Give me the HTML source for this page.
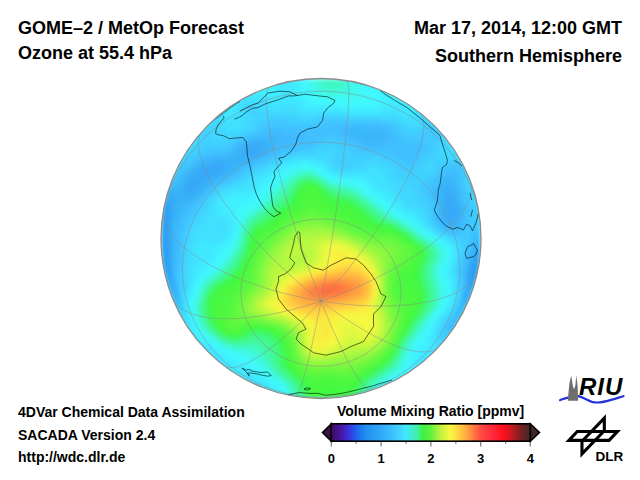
<!DOCTYPE html>
<html><head><meta charset="utf-8">
<style>
html,body{margin:0;padding:0;background:#fff;width:640px;height:480px;overflow:hidden;}
body{position:relative;font-family:"Liberation Sans",sans-serif;font-weight:bold;color:#000;}
.t{position:absolute;white-space:nowrap;line-height:1;}
.h{font-size:18px;}
.s{font-size:14px;}
svg{position:absolute;left:0;top:0;}
</style></head><body>
<div class="t h" style="left:18px;top:19px;">GOME&#8211;2 / MetOp Forecast</div>
<div class="t h" style="left:18px;top:44px;">Ozone at 55.4 hPa</div>
<div class="t h" style="right:18px;top:19px;">Mar 17, 2014, 12:00 GMT</div>
<div class="t h" style="right:18px;top:47px;">Southern Hemisphere</div>
<div class="t s" style="left:18px;top:405px;">4DVar Chemical Data Assimilation</div>
<div class="t s" style="left:18px;top:428px;">SACADA Version 2.4</div>
<div class="t s" style="left:18px;top:450px;">http://wdc.dlr.de</div>
<div class="t s" style="left:337px;top:404px;">Volume Mixing Ratio [ppmv]</div>
<svg width="640" height="480" viewBox="0 0 640 480">
  <defs>
    <clipPath id="disc"><circle cx="321" cy="238.5" r="160"/></clipPath>
    <filter id="soft" x="-5%" y="-5%" width="110%" height="110%"><feGaussianBlur stdDeviation="2"/></filter>
  </defs>
  <g clip-path="url(#disc)"><g filter="url(#soft)">
<path fill="#40f0ff" d="M161 79h116v4h-116zM297 79h4v4h-4zM161 83h116v4h-116zM297 83h4v4h-4zM377 83h104v4h-104zM161 87h116v4h-116zM297 87h4v4h-4zM377 87h104v4h-104zM161 91h84v4h-84zM253 91h24v4h-24zM297 91h8v4h-8zM381 91h100v4h-100zM297 95h8v4h-8zM381 95h44v4h-44zM301 99h8v4h-8zM377 99h36v4h-36zM305 103h32v4h-32zM373 103h16v4h-16zM341 107h40v4h-40zM289 163h12v4h-12zM309 163h8v4h-8zM281 167h8v4h-8zM321 167h4v4h-4zM277 171h4v4h-4zM325 171h4v4h-4zM269 175h8v4h-8zM333 175h8v4h-8zM265 179h8v4h-8zM357 179h8v4h-8zM261 183h4v4h-4zM365 183h4v4h-4zM257 187h4v4h-4zM369 187h4v4h-4zM253 191h4v4h-4zM373 191h8v4h-8zM233 195h24v4h-24zM381 195h4v4h-4zM225 199h28v4h-28zM385 199h4v4h-4zM225 203h16v4h-16zM389 203h4v4h-4zM225 207h12v4h-12zM393 207h4v4h-4zM229 211h8v4h-8zM401 211h4v4h-4zM233 215h4v4h-4zM405 215h8v4h-8zM233 219h4v4h-4zM413 219h4v4h-4zM233 223h4v4h-4zM417 223h4v4h-4zM233 227h4v4h-4zM421 227h4v4h-4zM429 231h4v4h-4zM229 235h4v4h-4zM433 235h4v4h-4zM229 239h4v4h-4zM441 239h4v4h-4zM221 243h8v4h-8zM445 243h4v4h-4zM217 247h8v4h-8zM449 247h4v4h-4zM213 251h8v4h-8zM449 251h4v4h-4zM213 255h4v4h-4zM449 255h4v4h-4zM209 259h8v4h-8zM449 259h4v4h-4zM205 263h8v4h-8zM201 267h8v4h-8zM445 267h4v4h-4zM197 271h8v4h-8zM445 271h4v4h-4zM197 275h4v4h-4zM445 275h4v4h-4zM193 279h4v4h-4zM449 279h4v4h-4zM193 283h4v4h-4zM449 283h4v4h-4zM449 287h4v4h-4zM449 291h4v4h-4zM189 295h4v4h-4zM449 295h4v4h-4zM445 303h4v4h-4zM185 307h4v4h-4zM441 311h4v4h-4zM437 315h4v4h-4zM189 319h4v4h-4zM433 319h4v4h-4zM193 327h4v4h-4zM429 327h4v4h-4zM193 331h4v4h-4zM429 331h4v4h-4zM197 335h4v4h-4zM425 335h4v4h-4zM201 339h4v4h-4zM425 339h4v4h-4zM209 343h4v4h-4zM421 343h8v4h-8zM213 347h4v4h-4zM417 347h8v4h-8zM217 351h8v4h-8zM413 351h8v4h-8zM221 355h8v4h-8zM413 355h4v4h-4zM225 359h12v4h-12zM413 359h4v4h-4zM233 363h16v4h-16zM409 363h4v4h-4zM245 367h8v4h-8zM409 367h4v4h-4zM253 371h4v4h-4zM405 371h8v4h-8zM257 375h8v4h-8zM401 375h8v4h-8zM265 379h4v4h-4zM397 379h8v4h-8zM269 383h4v4h-4zM393 383h4v4h-4zM273 387h4v4h-4zM277 391h4v4h-4zM277 395h4v4h-4z"/>
<path fill="#40e8ff" d="M277 79h20v4h-20zM277 83h20v4h-20zM277 87h20v4h-20zM245 91h8v4h-8zM277 91h20v4h-20zM233 95h64v4h-64zM161 99h80v4h-80zM265 99h36v4h-36zM213 103h24v4h-24zM273 103h4v4h-4zM297 103h8v4h-8zM389 103h40v4h-40zM221 107h16v4h-16zM301 107h40v4h-40zM381 107h40v4h-40zM225 111h12v4h-12zM349 111h32v4h-32zM405 111h8v4h-8zM225 115h8v4h-8zM293 159h24v4h-24zM281 163h8v4h-8zM317 163h8v4h-8zM277 167h4v4h-4zM325 167h4v4h-4zM269 171h8v4h-8zM329 171h4v4h-4zM261 175h8v4h-8zM341 175h28v4h-28zM257 179h8v4h-8zM365 179h8v4h-8zM253 183h8v4h-8zM369 183h8v4h-8zM245 187h12v4h-12zM373 187h8v4h-8zM229 191h24v4h-24zM381 191h8v4h-8zM221 195h12v4h-12zM385 195h8v4h-8zM217 199h8v4h-8zM389 199h8v4h-8zM217 203h8v4h-8zM393 203h8v4h-8zM217 207h8v4h-8zM397 207h8v4h-8zM217 211h12v4h-12zM405 211h8v4h-8zM221 215h12v4h-12zM413 215h4v4h-4zM229 219h4v4h-4zM417 219h4v4h-4zM229 223h4v4h-4zM421 223h4v4h-4zM229 227h4v4h-4zM425 227h4v4h-4zM229 231h4v4h-4zM225 235h4v4h-4zM437 235h4v4h-4zM201 239h4v4h-4zM221 239h8v4h-8zM445 239h4v4h-4zM197 243h24v4h-24zM449 243h4v4h-4zM197 247h20v4h-20zM453 247h4v4h-4zM197 251h16v4h-16zM453 251h4v4h-4zM197 255h16v4h-16zM453 255h4v4h-4zM197 259h12v4h-12zM197 263h8v4h-8zM449 263h4v4h-4zM193 267h8v4h-8zM449 267h4v4h-4zM193 271h4v4h-4zM449 271h4v4h-4zM193 275h4v4h-4zM449 275h4v4h-4zM189 283h4v4h-4zM189 287h4v4h-4zM189 291h4v4h-4zM185 299h4v4h-4zM449 299h4v4h-4zM185 303h4v4h-4zM449 303h4v4h-4zM445 307h4v4h-4zM185 311h4v4h-4zM185 315h4v4h-4zM185 319h4v4h-4zM437 319h4v4h-4zM189 323h4v4h-4zM433 323h4v4h-4zM189 327h4v4h-4zM433 327h4v4h-4zM189 331h4v4h-4zM193 335h4v4h-4zM429 335h4v4h-4zM193 339h8v4h-8zM429 339h4v4h-4zM201 343h8v4h-8zM429 343h4v4h-4zM209 347h4v4h-4zM425 347h8v4h-8zM213 351h4v4h-4zM421 351h12v4h-12zM217 355h4v4h-4zM417 355h8v4h-8zM221 359h4v4h-4zM417 359h4v4h-4zM221 363h12v4h-12zM413 363h8v4h-8zM225 367h20v4h-20zM413 367h4v4h-4zM229 371h24v4h-24zM413 371h4v4h-4zM245 375h12v4h-12zM409 375h4v4h-4zM253 379h12v4h-12zM261 383h8v4h-8zM269 387h4v4h-4zM269 391h8v4h-8zM273 395h4v4h-4z"/>
<path fill="#40f8ff" d="M301 79h4v4h-4zM369 79h8v4h-8zM301 83h4v4h-4zM369 83h8v4h-8zM301 87h4v4h-4zM369 87h8v4h-8zM305 91h4v4h-4zM369 91h12v4h-12zM305 95h8v4h-8zM369 95h12v4h-12zM309 99h16v4h-16zM369 99h8v4h-8zM337 103h36v4h-36zM301 163h8v4h-8zM289 167h4v4h-4zM317 167h4v4h-4zM281 171h4v4h-4zM321 171h4v4h-4zM277 175h4v4h-4zM329 175h4v4h-4zM273 179h4v4h-4zM341 179h16v4h-16zM265 183h8v4h-8zM361 183h4v4h-4zM261 187h4v4h-4zM365 187h4v4h-4zM257 191h8v4h-8zM369 191h4v4h-4zM257 195h4v4h-4zM377 195h4v4h-4zM253 199h4v4h-4zM381 199h4v4h-4zM241 203h12v4h-12zM385 203h4v4h-4zM237 207h8v4h-8zM389 207h4v4h-4zM237 211h4v4h-4zM397 211h4v4h-4zM237 215h4v4h-4zM409 219h4v4h-4zM233 231h4v4h-4zM425 231h4v4h-4zM233 235h4v4h-4zM437 239h4v4h-4zM229 243h4v4h-4zM225 247h4v4h-4zM445 247h4v4h-4zM221 251h4v4h-4zM217 255h4v4h-4zM217 259h4v4h-4zM445 259h4v4h-4zM213 263h4v4h-4zM445 263h4v4h-4zM209 267h4v4h-4zM205 271h4v4h-4zM201 275h4v4h-4zM197 279h4v4h-4zM445 279h4v4h-4zM445 283h4v4h-4zM193 287h4v4h-4zM193 291h4v4h-4zM445 295h4v4h-4zM189 299h4v4h-4zM445 299h4v4h-4zM189 303h4v4h-4zM189 307h4v4h-4zM441 307h4v4h-4zM189 311h4v4h-4zM437 311h4v4h-4zM189 315h4v4h-4zM193 323h4v4h-4zM429 323h4v4h-4zM197 331h4v4h-4zM425 331h4v4h-4zM201 335h4v4h-4zM205 339h4v4h-4zM421 339h4v4h-4zM213 343h4v4h-4zM417 343h4v4h-4zM217 347h4v4h-4zM413 347h4v4h-4zM225 351h4v4h-4zM229 355h8v4h-8zM409 355h4v4h-4zM237 359h12v4h-12zM409 359h4v4h-4zM249 363h4v4h-4zM253 367h4v4h-4zM405 367h4v4h-4zM257 371h8v4h-8zM401 371h4v4h-4zM265 375h4v4h-4zM397 375h4v4h-4zM269 379h4v4h-4zM393 379h4v4h-4zM273 383h4v4h-4zM389 383h4v4h-4zM277 387h4v4h-4zM385 387h4v4h-4zM281 391h4v4h-4zM281 395h4v4h-4z"/>
<path fill="#40f8f8" d="M305 79h4v4h-4zM361 79h8v4h-8zM305 83h4v4h-4zM361 83h8v4h-8zM305 87h4v4h-4zM361 87h8v4h-8zM309 91h4v4h-4zM361 91h8v4h-8zM313 95h8v4h-8zM361 95h8v4h-8zM325 99h44v4h-44zM293 167h4v4h-4zM313 167h4v4h-4zM285 171h4v4h-4zM281 175h4v4h-4zM325 175h4v4h-4zM277 179h4v4h-4zM333 179h8v4h-8zM273 183h4v4h-4zM353 183h8v4h-8zM265 187h4v4h-4zM361 187h4v4h-4zM365 191h4v4h-4zM261 195h4v4h-4zM373 195h4v4h-4zM257 199h4v4h-4zM377 199h4v4h-4zM253 203h4v4h-4zM381 203h4v4h-4zM245 207h4v4h-4zM385 207h4v4h-4zM241 211h4v4h-4zM393 211h4v4h-4zM401 215h4v4h-4zM237 219h4v4h-4zM405 219h4v4h-4zM237 223h4v4h-4zM413 223h4v4h-4zM417 227h4v4h-4zM421 231h4v4h-4zM429 235h4v4h-4zM233 239h4v4h-4zM441 243h4v4h-4zM225 251h4v4h-4zM445 251h4v4h-4zM221 255h4v4h-4zM445 255h4v4h-4zM217 263h4v4h-4zM441 263h4v4h-4zM213 267h4v4h-4zM441 267h4v4h-4zM441 271h4v4h-4zM441 275h4v4h-4zM197 283h4v4h-4zM445 287h4v4h-4zM445 291h4v4h-4zM193 295h4v4h-4zM441 303h4v4h-4zM433 315h4v4h-4zM193 319h4v4h-4zM429 319h4v4h-4zM197 327h4v4h-4zM425 327h4v4h-4zM201 331h4v4h-4zM421 331h4v4h-4zM205 335h4v4h-4zM421 335h4v4h-4zM209 339h4v4h-4zM417 339h4v4h-4zM413 343h4v4h-4zM221 347h4v4h-4zM229 351h4v4h-4zM409 351h4v4h-4zM237 355h8v4h-8zM249 359h4v4h-4zM405 359h4v4h-4zM253 363h4v4h-4zM405 363h4v4h-4zM257 367h4v4h-4zM401 367h4v4h-4zM269 375h4v4h-4zM393 375h4v4h-4zM273 379h4v4h-4zM389 379h4v4h-4zM277 383h4v4h-4zM385 383h4v4h-4zM281 387h4v4h-4zM381 387h4v4h-4zM377 391h4v4h-4z"/>
<path fill="#40f8f0" d="M309 79h4v4h-4zM357 79h4v4h-4zM309 83h4v4h-4zM357 83h4v4h-4zM309 87h8v4h-8zM353 87h8v4h-8zM313 91h4v4h-4zM353 91h8v4h-8zM321 95h40v4h-40zM297 167h16v4h-16zM289 171h4v4h-4zM317 171h4v4h-4zM285 175h4v4h-4zM281 179h4v4h-4zM329 179h4v4h-4zM277 183h4v4h-4zM349 183h4v4h-4zM269 187h4v4h-4zM357 187h4v4h-4zM265 191h4v4h-4zM369 195h4v4h-4zM261 199h4v4h-4zM373 199h4v4h-4zM257 203h4v4h-4zM249 207h4v4h-4zM245 211h4v4h-4zM389 211h4v4h-4zM241 215h4v4h-4zM397 215h4v4h-4zM409 223h4v4h-4zM237 227h4v4h-4zM237 231h4v4h-4zM425 235h4v4h-4zM433 239h4v4h-4zM233 243h4v4h-4zM437 243h4v4h-4zM229 247h4v4h-4zM441 247h4v4h-4zM225 255h4v4h-4zM221 259h4v4h-4zM441 259h4v4h-4zM209 271h4v4h-4zM437 271h4v4h-4zM205 275h4v4h-4zM201 279h4v4h-4zM441 279h4v4h-4zM441 283h4v4h-4zM197 287h4v4h-4zM441 287h4v4h-4zM441 291h4v4h-4zM441 295h4v4h-4zM193 299h4v4h-4zM441 299h4v4h-4zM193 303h4v4h-4zM437 307h4v4h-4zM193 311h4v4h-4zM433 311h4v4h-4zM193 315h4v4h-4zM197 323h4v4h-4zM425 323h4v4h-4zM417 335h4v4h-4zM213 339h4v4h-4zM413 339h4v4h-4zM217 343h4v4h-4zM225 347h4v4h-4zM409 347h4v4h-4zM233 351h8v4h-8zM245 355h8v4h-8zM405 355h4v4h-4zM253 359h4v4h-4zM257 363h4v4h-4zM401 363h4v4h-4zM261 367h4v4h-4zM265 371h4v4h-4zM397 371h4v4h-4zM389 375h4v4h-4zM277 379h4v4h-4zM385 379h4v4h-4zM281 383h4v4h-4zM381 383h4v4h-4zM377 387h4v4h-4zM285 391h4v4h-4zM373 391h4v4h-4zM285 395h4v4h-4z"/>
<path fill="#40f8e8" d="M313 79h4v4h-4zM349 79h8v4h-8zM313 83h4v4h-4zM349 83h8v4h-8zM349 87h4v4h-4zM317 91h8v4h-8zM345 91h8v4h-8zM293 171h4v4h-4zM321 175h4v4h-4zM341 183h8v4h-8zM273 187h4v4h-4zM269 191h4v4h-4zM361 191h4v4h-4zM265 195h4v4h-4zM377 203h4v4h-4zM253 207h4v4h-4zM381 207h4v4h-4zM249 211h4v4h-4zM245 215h4v4h-4zM393 215h4v4h-4zM241 219h4v4h-4zM401 219h4v4h-4zM413 227h4v4h-4zM237 235h4v4h-4zM229 251h4v4h-4zM441 251h4v4h-4zM441 255h4v4h-4zM221 263h4v4h-4zM437 263h4v4h-4zM217 267h4v4h-4zM437 267h4v4h-4zM213 271h4v4h-4zM437 275h4v4h-4zM201 283h4v4h-4zM197 291h4v4h-4zM437 303h4v4h-4zM193 307h4v4h-4zM429 315h4v4h-4zM201 327h4v4h-4zM421 327h4v4h-4zM209 335h4v4h-4zM221 343h4v4h-4zM409 343h4v4h-4zM229 347h4v4h-4zM241 351h8v4h-8zM405 351h4v4h-4zM253 355h4v4h-4zM257 359h4v4h-4zM401 359h4v4h-4zM261 363h4v4h-4zM265 367h4v4h-4zM397 367h4v4h-4zM269 371h4v4h-4zM393 371h4v4h-4zM273 375h4v4h-4zM381 379h4v4h-4zM377 383h4v4h-4zM285 387h4v4h-4zM373 387h4v4h-4z"/>
<path fill="#40f8d8" d="M317 79h4v4h-4zM345 79h4v4h-4zM317 83h4v4h-4zM345 83h4v4h-4zM321 87h4v4h-4zM341 87h4v4h-4zM333 91h4v4h-4zM297 171h4v4h-4zM285 179h4v4h-4zM325 179h4v4h-4zM281 183h4v4h-4zM277 187h4v4h-4zM273 191h4v4h-4zM269 195h4v4h-4zM265 199h4v4h-4zM369 199h4v4h-4zM261 203h4v4h-4zM257 207h4v4h-4zM405 223h4v4h-4zM237 239h4v4h-4zM229 255h4v4h-4zM437 259h4v4h-4zM205 279h4v4h-4zM437 283h4v4h-4zM197 295h4v4h-4zM437 299h4v4h-4zM433 307h4v4h-4zM421 323h4v4h-4zM413 335h4v4h-4zM233 347h4v4h-4zM405 347h4v4h-4zM253 351h4v4h-4zM261 359h4v4h-4zM281 379h4v4h-4zM285 383h4v4h-4zM289 391h4v4h-4zM369 391h4v4h-4zM289 395h4v4h-4z"/>
<path fill="#40f8c8" d="M321 79h4v4h-4zM341 79h4v4h-4zM325 83h4v4h-4zM337 83h4v4h-4zM329 87h8v4h-8zM305 171h4v4h-4zM317 175h4v4h-4zM281 187h4v4h-4zM349 187h4v4h-4zM361 195h4v4h-4zM377 207h4v4h-4zM249 215h4v4h-4zM245 219h4v4h-4zM409 227h4v4h-4zM237 243h4v4h-4zM233 251h4v4h-4zM437 251h4v4h-4zM437 255h4v4h-4zM225 263h4v4h-4zM217 271h4v4h-4zM201 287h4v4h-4zM197 299h4v4h-4zM429 311h4v4h-4zM201 323h4v4h-4zM417 327h4v4h-4zM225 343h4v4h-4zM249 347h4v4h-4zM257 351h4v4h-4zM261 355h4v4h-4zM269 367h4v4h-4zM393 367h4v4h-4zM273 371h4v4h-4zM289 387h4v4h-4zM369 387h4v4h-4z"/>
<path fill="#40f8c0" d="M325 79h16v4h-16zM329 83h8v4h-8zM293 175h4v4h-4zM289 179h4v4h-4zM285 183h4v4h-4zM329 183h4v4h-4zM345 187h4v4h-4zM277 191h4v4h-4zM273 195h4v4h-4zM269 199h4v4h-4zM265 203h4v4h-4zM261 207h4v4h-4zM381 211h4v4h-4zM241 231h4v4h-4zM413 231h4v4h-4zM425 239h4v4h-4zM229 259h4v4h-4zM433 263h4v4h-4zM213 275h4v4h-4zM433 279h4v4h-4zM197 303h4v4h-4zM433 303h4v4h-4zM197 311h4v4h-4zM425 315h4v4h-4zM213 335h4v4h-4zM405 343h4v4h-4zM253 347h4v4h-4zM401 351h4v4h-4zM265 359h4v4h-4zM381 375h4v4h-4z"/>
<path fill="#40f8d0" d="M321 83h4v4h-4zM341 83h4v4h-4zM325 87h4v4h-4zM337 87h4v4h-4zM301 171h4v4h-4zM309 171h4v4h-4zM333 183h4v4h-4zM357 191h4v4h-4zM373 203h4v4h-4zM253 211h4v4h-4zM389 215h4v4h-4zM397 219h4v4h-4zM241 227h4v4h-4zM421 235h4v4h-4zM433 243h4v4h-4zM437 247h4v4h-4zM221 267h4v4h-4zM433 267h4v4h-4zM433 271h4v4h-4zM433 275h4v4h-4zM437 287h4v4h-4zM437 291h4v4h-4zM437 295h4v4h-4zM197 315h4v4h-4zM217 339h4v4h-4zM409 339h4v4h-4zM237 347h12v4h-12zM401 355h4v4h-4zM265 363h4v4h-4zM397 363h4v4h-4zM389 371h4v4h-4zM277 375h4v4h-4zM377 379h4v4h-4zM373 383h4v4h-4z"/>
<path fill="#40f8e0" d="M317 87h4v4h-4zM345 87h4v4h-4zM325 91h8v4h-8zM337 91h8v4h-8zM313 171h4v4h-4zM289 175h4v4h-4zM337 183h4v4h-4zM353 187h4v4h-4zM365 195h4v4h-4zM385 211h4v4h-4zM241 223h4v4h-4zM417 231h4v4h-4zM429 239h4v4h-4zM233 247h4v4h-4zM225 259h4v4h-4zM209 275h4v4h-4zM437 279h4v4h-4zM197 319h4v4h-4zM425 319h4v4h-4zM205 331h4v4h-4zM417 331h4v4h-4zM249 351h4v4h-4zM257 355h4v4h-4zM385 375h4v4h-4z"/>
<path fill="#40e0ff" d="M241 99h24v4h-24zM237 103h8v4h-8zM261 103h12v4h-12zM277 103h20v4h-20zM161 107h60v4h-60zM237 107h4v4h-4zM269 107h32v4h-32zM421 107h60v4h-60zM213 111h12v4h-12zM237 111h4v4h-4zM301 111h48v4h-48zM381 111h24v4h-24zM413 111h12v4h-12zM217 115h8v4h-8zM233 115h12v4h-12zM397 115h24v4h-24zM221 119h24v4h-24zM405 119h12v4h-12zM221 123h24v4h-24zM225 127h16v4h-16zM449 139h8v4h-8zM449 143h12v4h-12zM449 147h12v4h-12zM309 155h4v4h-4zM285 159h8v4h-8zM317 159h8v4h-8zM277 163h4v4h-4zM325 163h4v4h-4zM269 167h8v4h-8zM329 167h4v4h-4zM365 167h16v4h-16zM261 171h8v4h-8zM333 171h52v4h-52zM253 175h8v4h-8zM369 175h16v4h-16zM249 179h8v4h-8zM373 179h16v4h-16zM241 183h12v4h-12zM377 183h16v4h-16zM229 187h16v4h-16zM381 187h12v4h-12zM221 191h8v4h-8zM389 191h8v4h-8zM217 195h4v4h-4zM393 195h8v4h-8zM213 199h4v4h-4zM397 199h4v4h-4zM213 203h4v4h-4zM401 203h4v4h-4zM209 207h8v4h-8zM405 207h8v4h-8zM209 211h8v4h-8zM413 211h8v4h-8zM205 215h16v4h-16zM417 215h8v4h-8zM205 219h24v4h-24zM421 219h4v4h-4zM201 223h28v4h-28zM425 223h4v4h-4zM197 227h20v4h-20zM221 227h8v4h-8zM429 227h4v4h-4zM193 231h36v4h-36zM433 231h4v4h-4zM193 235h32v4h-32zM441 235h4v4h-4zM193 239h8v4h-8zM205 239h16v4h-16zM449 239h4v4h-4zM189 243h8v4h-8zM453 243h4v4h-4zM189 247h8v4h-8zM189 251h8v4h-8zM189 255h8v4h-8zM189 259h8v4h-8zM453 259h4v4h-4zM189 263h8v4h-8zM453 263h4v4h-4zM189 267h4v4h-4zM189 271h4v4h-4zM189 275h4v4h-4zM453 275h4v4h-4zM189 279h4v4h-4zM453 279h4v4h-4zM453 283h4v4h-4zM453 287h4v4h-4zM185 291h4v4h-4zM453 291h4v4h-4zM185 295h4v4h-4zM453 295h4v4h-4zM453 299h4v4h-4zM181 303h4v4h-4zM181 307h4v4h-4zM449 307h4v4h-4zM181 311h4v4h-4zM445 311h4v4h-4zM181 315h4v4h-4zM441 315h4v4h-4zM185 323h4v4h-4zM437 323h4v4h-4zM185 327h4v4h-4zM185 331h4v4h-4zM433 331h4v4h-4zM189 335h4v4h-4zM433 335h4v4h-4zM189 339h4v4h-4zM433 339h4v4h-4zM189 343h12v4h-12zM433 343h8v4h-8zM185 347h24v4h-24zM433 347h8v4h-8zM185 351h28v4h-28zM433 351h8v4h-8zM209 355h8v4h-8zM425 355h12v4h-12zM209 359h12v4h-12zM421 359h8v4h-8zM205 363h16v4h-16zM421 363h4v4h-4zM161 367h64v4h-64zM417 367h8v4h-8zM161 371h68v4h-68zM161 375h84v4h-84zM161 379h92v4h-92zM161 383h100v4h-100zM161 387h108v4h-108zM161 391h108v4h-108z"/>
<path fill="#40d8ff" d="M245 103h16v4h-16zM241 107h12v4h-12zM257 107h12v4h-12zM241 111h8v4h-8zM261 111h40v4h-40zM425 111h56v4h-56zM161 115h56v4h-56zM245 115h8v4h-8zM297 115h20v4h-20zM345 115h52v4h-52zM421 115h12v4h-12zM205 119h16v4h-16zM245 119h12v4h-12zM397 119h8v4h-8zM417 119h8v4h-8zM209 123h12v4h-12zM245 123h8v4h-8zM405 123h16v4h-16zM209 127h16v4h-16zM241 127h12v4h-12zM409 127h4v4h-4zM177 131h20v4h-20zM213 131h28v4h-28zM177 135h24v4h-24zM213 135h20v4h-20zM445 135h24v4h-24zM177 139h24v4h-24zM441 139h8v4h-8zM173 143h24v4h-24zM441 143h8v4h-8zM169 147h20v4h-20zM329 147h4v4h-4zM441 147h8v4h-8zM317 151h16v4h-16zM437 151h32v4h-32zM293 155h16v4h-16zM313 155h20v4h-20zM441 155h28v4h-28zM277 159h8v4h-8zM325 159h8v4h-8zM369 159h8v4h-8zM269 163h8v4h-8zM329 163h4v4h-4zM361 163h24v4h-24zM429 163h4v4h-4zM161 167h12v4h-12zM261 167h8v4h-8zM333 167h8v4h-8zM349 167h16v4h-16zM381 167h12v4h-12zM425 167h8v4h-8zM469 167h12v4h-12zM253 171h8v4h-8zM385 171h8v4h-8zM469 171h12v4h-12zM245 175h8v4h-8zM385 175h12v4h-12zM469 175h12v4h-12zM241 179h8v4h-8zM389 179h16v4h-16zM469 179h12v4h-12zM233 183h8v4h-8zM393 183h16v4h-16zM469 183h12v4h-12zM221 187h8v4h-8zM393 187h20v4h-20zM469 187h12v4h-12zM217 191h4v4h-4zM397 191h16v4h-16zM473 191h8v4h-8zM213 195h4v4h-4zM401 195h12v4h-12zM473 195h8v4h-8zM209 199h4v4h-4zM401 199h16v4h-16zM209 203h4v4h-4zM405 203h16v4h-16zM205 207h4v4h-4zM413 207h12v4h-12zM201 211h8v4h-8zM421 211h4v4h-4zM197 215h8v4h-8zM425 215h4v4h-4zM197 219h8v4h-8zM425 219h4v4h-4zM193 223h8v4h-8zM429 223h4v4h-4zM189 227h8v4h-8zM217 227h4v4h-4zM189 231h4v4h-4zM437 231h4v4h-4zM189 235h4v4h-4zM445 235h4v4h-4zM189 239h4v4h-4zM453 239h4v4h-4zM185 243h4v4h-4zM457 243h4v4h-4zM185 247h4v4h-4zM457 247h4v4h-4zM185 251h4v4h-4zM457 251h4v4h-4zM185 255h4v4h-4zM457 255h4v4h-4zM185 259h4v4h-4zM185 263h4v4h-4zM185 267h4v4h-4zM453 267h4v4h-4zM185 271h4v4h-4zM453 271h4v4h-4zM185 275h4v4h-4zM185 279h4v4h-4zM185 283h4v4h-4zM185 287h4v4h-4zM457 287h4v4h-4zM181 291h4v4h-4zM457 291h4v4h-4zM181 295h4v4h-4zM457 295h4v4h-4zM181 299h4v4h-4zM177 303h4v4h-4zM453 303h4v4h-4zM177 307h4v4h-4zM453 307h4v4h-4zM177 311h4v4h-4zM449 311h4v4h-4zM177 315h4v4h-4zM445 315h4v4h-4zM181 319h4v4h-4zM441 319h4v4h-4zM181 323h4v4h-4zM181 327h4v4h-4zM437 327h4v4h-4zM437 331h4v4h-4zM437 335h4v4h-4zM437 339h4v4h-4zM441 343h4v4h-4zM441 347h8v4h-8zM197 355h12v4h-12zM429 359h36v4h-36zM425 363h12v4h-12z"/>
<path fill="#40d0ff" d="M253 107h4v4h-4zM249 111h12v4h-12zM253 115h44v4h-44zM317 115h28v4h-28zM257 119h12v4h-12zM289 119h28v4h-28zM381 119h16v4h-16zM425 119h24v4h-24zM193 123h16v4h-16zM253 123h8v4h-8zM397 123h8v4h-8zM421 123h32v4h-32zM193 127h16v4h-16zM253 127h4v4h-4zM401 127h8v4h-8zM413 127h12v4h-12zM437 127h12v4h-12zM197 131h16v4h-16zM241 131h8v4h-8zM405 131h16v4h-16zM437 131h12v4h-12zM201 135h12v4h-12zM233 135h8v4h-8zM437 135h8v4h-8zM201 139h32v4h-32zM437 139h4v4h-4zM197 143h28v4h-28zM321 143h20v4h-20zM433 143h8v4h-8zM189 147h16v4h-16zM313 147h16v4h-16zM333 147h16v4h-16zM433 147h8v4h-8zM181 151h16v4h-16zM297 151h20v4h-20zM333 151h20v4h-20zM429 151h8v4h-8zM177 155h12v4h-12zM281 155h12v4h-12zM333 155h48v4h-48zM425 155h16v4h-16zM173 159h12v4h-12zM273 159h4v4h-4zM333 159h36v4h-36zM377 159h16v4h-16zM421 159h52v4h-52zM173 163h8v4h-8zM265 163h4v4h-4zM333 163h28v4h-28zM385 163h12v4h-12zM417 163h12v4h-12zM433 163h12v4h-12zM461 163h12v4h-12zM173 167h4v4h-4zM253 167h8v4h-8zM341 167h8v4h-8zM393 167h8v4h-8zM413 167h12v4h-12zM433 167h4v4h-4zM465 167h4v4h-4zM169 171h8v4h-8zM245 171h8v4h-8zM393 171h44v4h-44zM465 171h4v4h-4zM161 175h12v4h-12zM241 175h4v4h-4zM397 175h36v4h-36zM465 175h4v4h-4zM161 179h8v4h-8zM233 179h8v4h-8zM405 179h20v4h-20zM465 179h4v4h-4zM225 183h8v4h-8zM409 183h12v4h-12zM465 183h4v4h-4zM217 187h4v4h-4zM413 187h8v4h-8zM465 187h4v4h-4zM213 191h4v4h-4zM413 191h8v4h-8zM469 191h4v4h-4zM209 195h4v4h-4zM413 195h12v4h-12zM469 195h4v4h-4zM205 199h4v4h-4zM417 199h8v4h-8zM469 199h12v4h-12zM201 203h8v4h-8zM421 203h8v4h-8zM473 203h8v4h-8zM197 207h8v4h-8zM425 207h4v4h-4zM473 207h8v4h-8zM197 211h4v4h-4zM425 211h4v4h-4zM473 211h8v4h-8zM193 215h4v4h-4zM429 215h4v4h-4zM473 215h8v4h-8zM189 219h8v4h-8zM429 219h4v4h-4zM473 219h8v4h-8zM189 223h4v4h-4zM473 223h8v4h-8zM185 227h4v4h-4zM433 227h4v4h-4zM473 227h8v4h-8zM185 231h4v4h-4zM441 231h4v4h-4zM185 235h4v4h-4zM449 235h8v4h-8zM185 239h4v4h-4zM457 239h8v4h-8zM461 243h4v4h-4zM461 247h4v4h-4zM461 251h4v4h-4zM181 259h4v4h-4zM457 259h4v4h-4zM181 263h4v4h-4zM457 263h4v4h-4zM181 267h4v4h-4zM181 271h4v4h-4zM181 275h4v4h-4zM457 275h4v4h-4zM181 279h4v4h-4zM457 279h4v4h-4zM181 283h4v4h-4zM457 283h4v4h-4zM181 287h4v4h-4zM177 295h4v4h-4zM177 299h4v4h-4zM457 299h4v4h-4zM173 303h4v4h-4zM457 303h4v4h-4zM173 307h4v4h-4zM457 307h4v4h-4zM173 311h4v4h-4zM453 311h4v4h-4zM449 315h4v4h-4zM173 319h8v4h-8zM445 319h4v4h-4zM441 323h4v4h-4zM441 327h4v4h-4zM441 331h4v4h-4zM441 335h4v4h-4zM441 339h8v4h-8zM445 343h36v4h-36z"/>
<path fill="#40c8ff" d="M269 119h20v4h-20zM317 119h64v4h-64zM261 123h64v4h-64zM389 123h8v4h-8zM257 127h8v4h-8zM393 127h8v4h-8zM425 127h12v4h-12zM249 131h8v4h-8zM397 131h8v4h-8zM421 131h16v4h-16zM241 135h4v4h-4zM325 135h12v4h-12zM401 135h36v4h-36zM233 139h4v4h-4zM317 139h28v4h-28zM405 139h32v4h-32zM225 143h8v4h-8zM313 143h8v4h-8zM341 143h12v4h-12zM425 143h8v4h-8zM205 147h24v4h-24zM301 147h12v4h-12zM349 147h12v4h-12zM425 147h8v4h-8zM197 151h12v4h-12zM281 151h16v4h-16zM353 151h36v4h-36zM421 151h8v4h-8zM189 155h8v4h-8zM273 155h8v4h-8zM381 155h16v4h-16zM417 155h8v4h-8zM185 159h8v4h-8zM265 159h8v4h-8zM393 159h12v4h-12zM413 159h8v4h-8zM181 163h4v4h-4zM257 163h8v4h-8zM397 163h20v4h-20zM445 163h16v4h-16zM177 167h4v4h-4zM245 167h8v4h-8zM401 167h12v4h-12zM437 167h8v4h-8zM457 167h8v4h-8zM177 171h4v4h-4zM241 171h4v4h-4zM437 171h4v4h-4zM461 171h4v4h-4zM173 175h4v4h-4zM237 175h4v4h-4zM433 175h4v4h-4zM461 175h4v4h-4zM169 179h4v4h-4zM229 179h4v4h-4zM425 179h8v4h-8zM461 179h4v4h-4zM161 183h12v4h-12zM221 183h4v4h-4zM421 183h8v4h-8zM461 183h4v4h-4zM213 187h4v4h-4zM421 187h8v4h-8zM209 191h4v4h-4zM421 191h8v4h-8zM465 191h4v4h-4zM205 195h4v4h-4zM425 195h4v4h-4zM465 195h4v4h-4zM201 199h4v4h-4zM425 199h8v4h-8zM465 199h4v4h-4zM197 203h4v4h-4zM429 203h4v4h-4zM469 203h4v4h-4zM193 207h4v4h-4zM429 207h4v4h-4zM469 207h4v4h-4zM189 211h8v4h-8zM429 211h4v4h-4zM469 211h4v4h-4zM189 215h4v4h-4zM469 215h4v4h-4zM185 219h4v4h-4zM469 219h4v4h-4zM185 223h4v4h-4zM433 223h4v4h-4zM469 223h4v4h-4zM437 227h4v4h-4zM465 227h8v4h-8zM181 231h4v4h-4zM445 231h4v4h-4zM461 231h20v4h-20zM181 235h4v4h-4zM457 235h24v4h-24zM181 239h4v4h-4zM465 239h16v4h-16zM181 243h4v4h-4zM465 243h4v4h-4zM181 247h4v4h-4zM465 247h4v4h-4zM181 251h4v4h-4zM181 255h4v4h-4zM461 255h4v4h-4zM461 259h4v4h-4zM457 267h4v4h-4zM177 271h4v4h-4zM457 271h4v4h-4zM177 275h4v4h-4zM177 279h4v4h-4zM177 283h4v4h-4zM461 283h4v4h-4zM177 287h4v4h-4zM461 287h4v4h-4zM173 291h8v4h-8zM461 291h4v4h-4zM169 295h8v4h-8zM461 295h4v4h-4zM161 299h16v4h-16zM461 299h4v4h-4zM161 303h12v4h-12zM461 303h4v4h-4zM461 307h4v4h-4zM457 311h8v4h-8zM453 315h8v4h-8zM449 319h4v4h-4zM445 323h4v4h-4zM445 327h4v4h-4zM445 331h4v4h-4zM445 335h20v4h-20zM449 339h12v4h-12z"/>
<path fill="#40c0ff" d="M325 123h64v4h-64zM265 127h76v4h-76zM385 127h8v4h-8zM257 131h12v4h-12zM285 131h56v4h-56zM389 131h8v4h-8zM245 135h12v4h-12zM305 135h20v4h-20zM337 135h12v4h-12zM393 135h8v4h-8zM237 139h8v4h-8zM301 139h16v4h-16zM345 139h12v4h-12zM393 139h12v4h-12zM233 143h4v4h-4zM293 143h20v4h-20zM353 143h12v4h-12zM385 143h40v4h-40zM229 147h4v4h-4zM277 147h24v4h-24zM361 147h64v4h-64zM209 151h20v4h-20zM273 151h8v4h-8zM389 151h32v4h-32zM197 155h8v4h-8zM265 155h8v4h-8zM397 155h20v4h-20zM193 159h4v4h-4zM257 159h8v4h-8zM405 159h8v4h-8zM185 163h8v4h-8zM249 163h8v4h-8zM181 167h8v4h-8zM241 167h4v4h-4zM445 167h12v4h-12zM181 171h4v4h-4zM237 171h4v4h-4zM441 171h8v4h-8zM453 171h8v4h-8zM177 175h4v4h-4zM229 175h8v4h-8zM437 175h4v4h-4zM457 175h4v4h-4zM173 179h8v4h-8zM221 179h8v4h-8zM433 179h8v4h-8zM457 179h4v4h-4zM173 183h4v4h-4zM213 183h8v4h-8zM429 183h8v4h-8zM457 183h4v4h-4zM161 187h12v4h-12zM209 187h4v4h-4zM429 187h4v4h-4zM461 187h4v4h-4zM161 191h8v4h-8zM205 191h4v4h-4zM429 191h4v4h-4zM461 191h4v4h-4zM201 195h4v4h-4zM429 195h4v4h-4zM461 195h4v4h-4zM197 199h4v4h-4zM433 199h4v4h-4zM461 199h4v4h-4zM193 203h4v4h-4zM433 203h4v4h-4zM465 203h4v4h-4zM189 207h4v4h-4zM433 207h4v4h-4zM465 207h4v4h-4zM185 211h4v4h-4zM433 211h4v4h-4zM465 211h4v4h-4zM181 215h8v4h-8zM433 215h4v4h-4zM465 215h4v4h-4zM181 219h4v4h-4zM433 219h4v4h-4zM465 219h4v4h-4zM181 223h4v4h-4zM437 223h4v4h-4zM461 223h8v4h-8zM181 227h4v4h-4zM441 227h4v4h-4zM461 227h4v4h-4zM177 231h4v4h-4zM449 231h12v4h-12zM177 235h4v4h-4zM177 239h4v4h-4zM177 243h4v4h-4zM469 243h12v4h-12zM177 247h4v4h-4zM469 247h12v4h-12zM177 251h4v4h-4zM465 251h8v4h-8zM177 255h4v4h-4zM465 255h4v4h-4zM177 259h4v4h-4zM177 263h4v4h-4zM461 263h4v4h-4zM173 267h8v4h-8zM461 267h4v4h-4zM173 271h4v4h-4zM461 271h4v4h-4zM173 275h4v4h-4zM461 275h4v4h-4zM169 279h8v4h-8zM461 279h4v4h-4zM161 283h16v4h-16zM465 283h4v4h-4zM161 287h16v4h-16zM465 287h4v4h-4zM161 291h12v4h-12zM465 291h4v4h-4zM161 295h8v4h-8zM465 295h4v4h-4zM465 299h8v4h-8zM465 303h16v4h-16zM465 307h16v4h-16zM465 311h16v4h-16zM461 315h20v4h-20zM453 319h16v4h-16zM449 323h16v4h-16zM449 327h16v4h-16zM449 331h12v4h-12z"/>
<path fill="#40b8ff" d="M341 127h8v4h-8zM377 127h8v4h-8zM269 131h16v4h-16zM341 131h8v4h-8zM385 131h4v4h-4zM257 135h8v4h-8zM281 135h24v4h-24zM349 135h4v4h-4zM389 135h4v4h-4zM285 139h16v4h-16zM357 139h4v4h-4zM385 139h8v4h-8zM237 143h4v4h-4zM277 143h16v4h-16zM365 143h20v4h-20zM233 147h4v4h-4zM273 147h4v4h-4zM229 151h4v4h-4zM269 151h4v4h-4zM205 155h8v4h-8zM197 159h4v4h-4zM193 163h4v4h-4zM245 163h4v4h-4zM237 167h4v4h-4zM233 171h4v4h-4zM449 171h4v4h-4zM181 175h4v4h-4zM441 175h4v4h-4zM453 175h4v4h-4zM217 179h4v4h-4zM173 187h4v4h-4zM433 187h4v4h-4zM457 187h4v4h-4zM169 191h4v4h-4zM433 191h4v4h-4zM161 195h8v4h-8zM433 195h4v4h-4zM189 203h4v4h-4zM461 203h4v4h-4zM185 207h4v4h-4zM461 207h4v4h-4zM181 211h4v4h-4zM461 215h4v4h-4zM437 219h4v4h-4zM461 219h4v4h-4zM177 223h4v4h-4zM177 227h4v4h-4zM445 227h4v4h-4zM457 227h4v4h-4zM473 251h4v4h-4zM173 259h4v4h-4zM465 259h4v4h-4zM173 263h4v4h-4zM169 271h4v4h-4zM165 275h8v4h-8zM161 279h8v4h-8zM465 279h4v4h-4zM469 291h4v4h-4zM469 295h8v4h-8z"/>
<path fill="#40b8f8" d="M349 127h4v4h-4zM369 127h8v4h-8zM265 135h16v4h-16zM385 135h4v4h-4zM245 139h4v4h-4zM277 139h8v4h-8zM361 139h4v4h-4zM381 139h4v4h-4zM273 143h4v4h-4zM269 147h4v4h-4zM213 155h4v4h-4zM261 155h4v4h-4zM253 159h4v4h-4zM241 163h4v4h-4zM189 167h4v4h-4zM225 175h4v4h-4zM445 175h4v4h-4zM453 179h4v4h-4zM177 183h4v4h-4zM209 183h4v4h-4zM437 183h4v4h-4zM205 187h4v4h-4zM173 191h4v4h-4zM457 191h4v4h-4zM169 195h4v4h-4zM193 199h4v4h-4zM461 211h4v4h-4zM437 215h4v4h-4zM177 219h4v4h-4zM449 227h8v4h-8zM477 251h4v4h-4zM173 255h4v4h-4zM469 255h4v4h-4zM465 263h4v4h-4zM169 267h4v4h-4zM161 275h4v4h-4zM469 287h4v4h-4z"/>
<path fill="#38b8f8" d="M353 127h16v4h-16zM349 131h36v4h-36zM353 135h32v4h-32zM249 139h4v4h-4zM265 139h12v4h-12zM365 139h16v4h-16zM241 143h4v4h-4zM269 143h4v4h-4zM237 147h4v4h-4zM233 151h4v4h-4zM265 151h4v4h-4zM217 155h16v4h-16zM201 159h8v4h-8zM249 159h4v4h-4zM197 163h4v4h-4zM237 163h4v4h-4zM233 167h4v4h-4zM185 171h4v4h-4zM229 171h4v4h-4zM221 175h4v4h-4zM449 175h4v4h-4zM181 179h4v4h-4zM213 179h4v4h-4zM441 179h12v4h-12zM441 183h4v4h-4zM453 183h4v4h-4zM177 187h4v4h-4zM437 187h4v4h-4zM453 187h4v4h-4zM201 191h4v4h-4zM437 191h4v4h-4zM173 195h4v4h-4zM197 195h4v4h-4zM437 195h4v4h-4zM457 195h4v4h-4zM161 199h12v4h-12zM189 199h4v4h-4zM437 199h4v4h-4zM457 199h4v4h-4zM181 203h8v4h-8zM437 203h4v4h-4zM177 207h8v4h-8zM437 207h4v4h-4zM177 211h4v4h-4zM437 211h4v4h-4zM177 215h4v4h-4zM173 223h4v4h-4zM441 223h4v4h-4zM457 223h4v4h-4zM173 227h4v4h-4zM173 231h4v4h-4zM173 235h4v4h-4zM173 239h4v4h-4zM173 243h4v4h-4zM173 247h4v4h-4zM173 251h4v4h-4zM473 255h8v4h-8zM169 259h4v4h-4zM469 259h4v4h-4zM169 263h4v4h-4zM161 267h8v4h-8zM465 267h4v4h-4zM161 271h8v4h-8zM465 271h4v4h-4zM465 275h4v4h-4zM469 283h4v4h-4zM473 287h4v4h-4zM473 291h8v4h-8z"/>
<path fill="#38b0f8" d="M253 139h12v4h-12zM245 143h8v4h-8zM257 143h12v4h-12zM241 147h4v4h-4zM261 147h8v4h-8zM237 151h8v4h-8zM257 151h8v4h-8zM233 155h28v4h-28zM209 159h40v4h-40zM201 163h8v4h-8zM225 163h12v4h-12zM193 167h8v4h-8zM225 167h8v4h-8zM189 171h8v4h-8zM221 171h8v4h-8zM185 175h8v4h-8zM213 175h8v4h-8zM185 179h4v4h-4zM205 179h8v4h-8zM181 183h4v4h-4zM201 183h8v4h-8zM445 183h8v4h-8zM181 187h4v4h-4zM197 187h8v4h-8zM441 187h12v4h-12zM177 191h8v4h-8zM193 191h8v4h-8zM441 191h16v4h-16zM177 195h20v4h-20zM441 195h4v4h-4zM453 195h4v4h-4zM173 199h16v4h-16zM441 199h4v4h-4zM453 199h4v4h-4zM161 203h20v4h-20zM441 203h4v4h-4zM457 203h4v4h-4zM161 207h16v4h-16zM441 207h4v4h-4zM457 207h4v4h-4zM161 211h16v4h-16zM441 211h4v4h-4zM457 211h4v4h-4zM161 215h16v4h-16zM441 215h4v4h-4zM457 215h4v4h-4zM161 219h16v4h-16zM441 219h8v4h-8zM453 219h8v4h-8zM161 223h12v4h-12zM445 223h12v4h-12zM161 227h12v4h-12zM161 231h12v4h-12zM161 235h12v4h-12zM165 239h8v4h-8zM165 243h8v4h-8zM165 247h8v4h-8zM161 251h12v4h-12zM161 255h12v4h-12zM161 259h8v4h-8zM473 259h8v4h-8zM161 263h8v4h-8zM469 263h12v4h-12zM469 267h8v4h-8zM469 271h8v4h-8zM469 275h12v4h-12zM469 279h12v4h-12zM473 283h8v4h-8z"/>
<path fill="#38a8f8" d="M253 143h4v4h-4zM245 147h16v4h-16zM245 151h12v4h-12zM209 163h16v4h-16zM201 167h12v4h-12zM217 167h8v4h-8zM197 171h24v4h-24zM193 175h20v4h-20zM189 179h4v4h-4zM197 179h8v4h-8zM185 183h4v4h-4zM197 183h4v4h-4zM185 187h12v4h-12zM185 191h8v4h-8zM445 195h8v4h-8zM445 199h8v4h-8zM445 203h12v4h-12zM445 207h12v4h-12zM445 211h12v4h-12zM445 215h12v4h-12zM449 219h4v4h-4zM161 239h4v4h-4zM161 243h4v4h-4zM161 247h4v4h-4zM477 267h4v4h-4zM477 271h4v4h-4z"/>
<path fill="#30a8f8" d="M213 167h4v4h-4zM193 179h4v4h-4zM189 183h8v4h-8z"/>
<path fill="#40f8b0" d="M297 175h4v4h-4zM321 179h4v4h-4zM281 191h4v4h-4zM277 195h4v4h-4zM369 203h4v4h-4zM253 215h4v4h-4zM385 215h4v4h-4zM393 219h4v4h-4zM245 223h4v4h-4zM241 235h4v4h-4zM417 235h4v4h-4zM429 243h4v4h-4zM433 247h4v4h-4zM433 259h4v4h-4zM225 267h4v4h-4zM221 271h4v4h-4zM429 271h4v4h-4zM433 287h4v4h-4zM201 291h4v4h-4zM433 299h4v4h-4zM429 307h4v4h-4zM201 319h4v4h-4zM409 335h4v4h-4zM221 339h4v4h-4zM233 343h4v4h-4zM245 343h12v4h-12zM261 347h4v4h-4zM265 355h4v4h-4zM273 367h4v4h-4zM389 367h4v4h-4zM281 375h4v4h-4zM373 379h4v4h-4zM289 383h4v4h-4zM369 383h4v4h-4zM293 391h4v4h-4zM365 391h4v4h-4zM293 395h4v4h-4z"/>
<path fill="#40f8a0" d="M301 175h4v4h-4zM293 179h4v4h-4zM325 183h4v4h-4zM333 187h4v4h-4zM349 191h4v4h-4zM361 199h4v4h-4zM261 211h4v4h-4zM245 227h4v4h-4zM421 239h4v4h-4zM237 251h4v4h-4zM433 251h4v4h-4zM233 259h4v4h-4zM429 263h4v4h-4zM429 279h4v4h-4zM201 295h4v4h-4zM425 311h4v4h-4zM201 315h4v4h-4zM413 327h4v4h-4zM253 339h4v4h-4zM405 339h4v4h-4zM261 343h4v4h-4zM265 347h4v4h-4zM269 355h4v4h-4zM397 355h4v4h-4z"/>
<path fill="#40f898" d="M305 175h8v4h-8zM285 191h4v4h-4zM345 191h4v4h-4zM281 195h4v4h-4zM277 199h4v4h-4zM365 203h4v4h-4zM257 215h4v4h-4zM381 215h4v4h-4zM389 219h4v4h-4zM397 223h4v4h-4zM409 231h4v4h-4zM241 243h4v4h-4zM213 279h4v4h-4zM209 283h4v4h-4zM429 283h4v4h-4zM205 287h4v4h-4zM429 303h4v4h-4zM421 315h4v4h-4zM205 323h4v4h-4zM217 335h4v4h-4zM225 339h4v4h-4zM249 339h4v4h-4zM257 339h8v4h-8zM265 343h4v4h-4zM269 351h4v4h-4zM273 363h4v4h-4zM381 371h4v4h-4zM285 375h4v4h-4zM289 379h4v4h-4zM369 379h4v4h-4zM365 383h4v4h-4zM361 395h4v4h-4z"/>
<path fill="#40f8a8" d="M313 175h4v4h-4zM289 183h4v4h-4zM285 187h4v4h-4zM337 187h4v4h-4zM357 195h4v4h-4zM273 199h4v4h-4zM269 203h4v4h-4zM265 207h4v4h-4zM373 207h4v4h-4zM377 211h4v4h-4zM249 219h4v4h-4zM405 227h4v4h-4zM241 239h4v4h-4zM433 255h4v4h-4zM229 263h4v4h-4zM429 267h4v4h-4zM217 275h4v4h-4zM429 275h4v4h-4zM433 291h4v4h-4zM433 295h4v4h-4zM417 323h4v4h-4zM237 343h8v4h-8zM257 343h4v4h-4zM401 347h4v4h-4zM265 351h4v4h-4zM269 359h4v4h-4zM393 363h4v4h-4zM277 371h4v4h-4zM377 375h4v4h-4zM293 387h4v4h-4zM365 387h4v4h-4z"/>
<path fill="#40f888" d="M297 179h4v4h-4zM293 183h4v4h-4zM321 183h4v4h-4zM337 191h4v4h-4zM285 195h4v4h-4zM281 199h4v4h-4zM357 199h4v4h-4zM277 203h4v4h-4zM261 215h4v4h-4zM377 215h4v4h-4zM385 219h4v4h-4zM401 227h4v4h-4zM429 251h4v4h-4zM429 255h4v4h-4zM425 263h4v4h-4zM217 279h4v4h-4zM425 279h4v4h-4zM205 291h4v4h-4zM201 303h4v4h-4zM201 307h4v4h-4zM425 307h4v4h-4zM205 319h4v4h-4zM413 323h4v4h-4zM249 335h16v4h-16zM405 335h4v4h-4zM229 339h4v4h-4zM237 339h8v4h-8zM269 343h4v4h-4zM273 351h4v4h-4zM273 355h4v4h-4zM389 363h4v4h-4zM297 387h4v4h-4zM361 387h4v4h-4z"/>
<path fill="#40f878" d="M301 179h4v4h-4zM293 187h4v4h-4zM329 191h4v4h-4zM289 195h4v4h-4zM345 195h4v4h-4zM285 199h4v4h-4zM353 199h4v4h-4zM281 203h4v4h-4zM369 211h4v4h-4zM265 215h4v4h-4zM373 215h4v4h-4zM381 219h4v4h-4zM253 223h4v4h-4zM249 227h4v4h-4zM405 231h4v4h-4zM245 239h4v4h-4zM421 243h4v4h-4zM425 247h4v4h-4zM241 255h4v4h-4zM425 259h4v4h-4zM233 267h4v4h-4zM229 271h4v4h-4zM421 271h4v4h-4zM225 275h4v4h-4zM213 283h4v4h-4zM209 287h4v4h-4zM425 287h4v4h-4zM205 295h4v4h-4zM425 299h4v4h-4zM205 315h4v4h-4zM417 315h4v4h-4zM209 323h4v4h-4zM409 327h4v4h-4zM245 335h4v4h-4zM401 339h4v4h-4zM397 347h4v4h-4zM277 351h4v4h-4zM277 355h4v4h-4zM393 355h4v4h-4zM277 359h4v4h-4zM281 367h4v4h-4zM381 367h4v4h-4zM285 371h4v4h-4zM289 375h4v4h-4zM369 375h4v4h-4zM297 383h4v4h-4zM361 383h4v4h-4zM357 391h4v4h-4zM301 395h4v4h-4zM357 395h4v4h-4z"/>
<path fill="#40f870" d="M305 179h8v4h-8zM297 183h4v4h-4zM337 195h8v4h-8zM357 203h4v4h-4zM277 207h4v4h-4zM273 211h4v4h-4zM261 219h4v4h-4zM389 223h4v4h-4zM397 227h4v4h-4zM409 235h4v4h-4zM245 243h4v4h-4zM425 255h4v4h-4zM237 263h4v4h-4zM421 267h4v4h-4zM421 275h4v4h-4zM221 279h4v4h-4zM421 279h4v4h-4zM425 291h4v4h-4zM425 295h4v4h-4zM421 307h4v4h-4zM413 319h4v4h-4zM213 327h4v4h-4zM217 331h4v4h-4zM253 331h8v4h-8zM269 335h4v4h-4zM273 339h4v4h-4zM277 347h4v4h-4zM389 359h4v4h-4zM385 363h4v4h-4zM357 387h4v4h-4zM301 391h4v4h-4z"/>
<path fill="#40f880" d="M313 179h4v4h-4zM325 187h4v4h-4zM289 191h4v4h-4zM333 191h4v4h-4zM349 195h4v4h-4zM361 203h4v4h-4zM273 207h4v4h-4zM365 207h4v4h-4zM269 211h4v4h-4zM257 219h4v4h-4zM393 223h4v4h-4zM245 235h4v4h-4zM417 239h4v4h-4zM241 251h4v4h-4zM237 259h4v4h-4zM425 283h4v4h-4zM425 303h4v4h-4zM421 311h4v4h-4zM221 335h4v4h-4zM265 335h4v4h-4zM233 339h4v4h-4zM269 339h4v4h-4zM273 343h4v4h-4zM273 347h4v4h-4zM277 363h4v4h-4zM377 371h4v4h-4zM293 379h4v4h-4zM365 379h4v4h-4z"/>
<path fill="#40f890" d="M317 179h4v4h-4zM289 187h4v4h-4zM329 187h4v4h-4zM341 191h4v4h-4zM353 195h4v4h-4zM273 203h4v4h-4zM269 207h4v4h-4zM369 207h4v4h-4zM265 211h4v4h-4zM373 211h4v4h-4zM253 219h4v4h-4zM249 223h4v4h-4zM245 231h4v4h-4zM413 235h4v4h-4zM425 243h4v4h-4zM241 247h4v4h-4zM429 247h4v4h-4zM237 255h4v4h-4zM429 259h4v4h-4zM233 263h4v4h-4zM229 267h4v4h-4zM425 267h4v4h-4zM225 271h4v4h-4zM425 271h4v4h-4zM221 275h4v4h-4zM425 275h4v4h-4zM429 287h4v4h-4zM429 291h4v4h-4zM429 295h4v4h-4zM201 299h4v4h-4zM429 299h4v4h-4zM201 311h4v4h-4zM417 319h4v4h-4zM209 327h4v4h-4zM213 331h4v4h-4zM409 331h4v4h-4zM245 339h4v4h-4zM265 339h4v4h-4zM401 343h4v4h-4zM269 347h4v4h-4zM397 351h4v4h-4zM273 359h4v4h-4zM393 359h4v4h-4zM277 367h4v4h-4zM385 367h4v4h-4zM281 371h4v4h-4zM373 375h4v4h-4zM293 383h4v4h-4zM297 391h4v4h-4zM361 391h4v4h-4zM297 395h4v4h-4z"/>
<path fill="#40f850" d="M301 183h4v4h-4zM297 187h4v4h-4zM293 195h4v4h-4zM341 199h4v4h-4zM357 207h4v4h-4zM277 211h4v4h-4zM361 211h4v4h-4zM273 215h4v4h-4zM365 215h4v4h-4zM261 223h4v4h-4zM417 243h4v4h-4zM421 247h4v4h-4zM421 259h4v4h-4zM417 271h4v4h-4zM417 275h4v4h-4zM421 291h4v4h-4zM421 299h4v4h-4zM413 315h4v4h-4zM245 331h4v4h-4zM229 335h4v4h-4zM401 335h4v4h-4zM277 339h4v4h-4zM397 343h4v4h-4zM281 351h4v4h-4zM377 367h4v4h-4zM305 391h4v4h-4zM305 395h4v4h-4z"/>
<path fill="#40f840" d="M305 183h8v4h-8zM317 187h4v4h-4zM297 191h4v4h-4zM321 191h4v4h-4zM297 195h4v4h-4zM325 195h4v4h-4zM293 199h4v4h-4zM329 199h4v4h-4zM293 203h4v4h-4zM337 203h12v4h-12zM289 207h4v4h-4zM349 207h8v4h-8zM281 211h4v4h-4zM357 211h4v4h-4zM277 215h4v4h-4zM361 215h4v4h-4zM273 219h4v4h-4zM365 219h4v4h-4zM265 223h4v4h-4zM373 223h8v4h-8zM257 227h4v4h-4zM389 227h4v4h-4zM253 231h4v4h-4zM397 231h4v4h-4zM405 235h4v4h-4zM409 239h4v4h-4zM249 243h4v4h-4zM249 247h4v4h-4zM421 251h4v4h-4zM421 255h4v4h-4zM245 259h4v4h-4zM417 263h4v4h-4zM241 267h4v4h-4zM237 271h4v4h-4zM413 271h4v4h-4zM233 275h4v4h-4zM413 275h4v4h-4zM229 279h4v4h-4zM225 283h4v4h-4zM417 283h4v4h-4zM217 287h4v4h-4zM417 287h4v4h-4zM213 291h4v4h-4zM209 299h4v4h-4zM417 299h4v4h-4zM209 303h4v4h-4zM417 303h4v4h-4zM209 307h4v4h-4zM209 311h4v4h-4zM413 311h4v4h-4zM409 319h4v4h-4zM217 327h4v4h-4zM249 327h16v4h-16zM405 327h4v4h-4zM221 331h4v4h-4zM241 331h4v4h-4zM277 335h4v4h-4zM281 343h4v4h-4zM389 355h4v4h-4zM285 359h4v4h-4zM385 359h4v4h-4zM285 363h4v4h-4zM381 363h4v4h-4zM289 367h4v4h-4zM373 367h4v4h-4zM293 371h4v4h-4zM369 371h4v4h-4zM297 375h4v4h-4zM361 375h4v4h-4zM301 379h4v4h-4zM357 379h4v4h-4zM305 383h4v4h-4zM353 383h4v4h-4zM309 387h4v4h-4zM325 387h12v4h-12zM349 387h4v4h-4zM309 391h4v4h-4zM321 391h20v4h-20zM345 391h8v4h-8zM309 395h44v4h-44z"/>
<path fill="#40f848" d="M313 183h4v4h-4zM333 199h8v4h-8zM289 203h4v4h-4zM349 203h4v4h-4zM285 207h4v4h-4zM269 219h4v4h-4zM369 219h4v4h-4zM381 223h4v4h-4zM393 227h4v4h-4zM249 239h4v4h-4zM245 255h4v4h-4zM241 263h4v4h-4zM417 267h4v4h-4zM417 279h4v4h-4zM221 283h4v4h-4zM209 295h4v4h-4zM421 295h4v4h-4zM417 307h4v4h-4zM209 315h4v4h-4zM213 323h4v4h-4zM269 331h4v4h-4zM233 335h4v4h-4zM281 347h4v4h-4zM305 387h4v4h-4zM353 387h4v4h-4z"/>
<path fill="#40f868" d="M317 183h4v4h-4zM293 191h4v4h-4zM349 199h4v4h-4zM361 207h4v4h-4zM365 211h4v4h-4zM269 215h4v4h-4zM377 219h4v4h-4zM249 231h4v4h-4zM245 247h4v4h-4zM425 251h4v4h-4zM421 263h4v4h-4zM205 299h4v4h-4zM205 311h4v4h-4zM249 331h4v4h-4zM261 331h4v4h-4zM405 331h4v4h-4zM241 335h4v4h-4zM277 343h4v4h-4zM281 363h4v4h-4zM373 371h4v4h-4zM301 387h4v4h-4z"/>
<path fill="#48f840" d="M301 187h16v4h-16zM301 191h4v4h-4zM317 191h4v4h-4zM301 195h4v4h-4zM317 195h8v4h-8zM297 199h8v4h-8zM321 199h8v4h-8zM297 203h4v4h-4zM321 203h16v4h-16zM293 207h8v4h-8zM329 207h20v4h-20zM285 211h8v4h-8zM341 211h16v4h-16zM281 215h4v4h-4zM349 215h12v4h-12zM277 219h4v4h-4zM353 219h12v4h-12zM269 223h8v4h-8zM361 223h12v4h-12zM261 227h12v4h-12zM369 227h20v4h-20zM257 231h8v4h-8zM393 231h4v4h-4zM253 235h8v4h-8zM401 235h4v4h-4zM253 239h4v4h-4zM405 239h4v4h-4zM253 243h4v4h-4zM413 243h4v4h-4zM417 247h4v4h-4zM249 251h4v4h-4zM417 251h4v4h-4zM249 255h4v4h-4zM417 255h4v4h-4zM413 259h8v4h-8zM245 263h4v4h-4zM413 263h4v4h-4zM245 267h4v4h-4zM409 267h8v4h-8zM241 271h4v4h-4zM409 271h4v4h-4zM237 275h8v4h-8zM405 275h8v4h-8zM233 279h8v4h-8zM401 279h16v4h-16zM229 283h8v4h-8zM401 283h16v4h-16zM221 287h12v4h-12zM409 287h8v4h-8zM217 291h12v4h-12zM413 291h8v4h-8zM213 295h12v4h-12zM413 295h8v4h-8zM213 299h8v4h-8zM413 299h4v4h-4zM213 303h8v4h-8zM413 303h4v4h-4zM213 307h4v4h-4zM409 307h8v4h-8zM213 311h4v4h-4zM409 311h4v4h-4zM213 315h4v4h-4zM409 315h4v4h-4zM213 319h4v4h-4zM405 319h4v4h-4zM217 323h4v4h-4zM405 323h4v4h-4zM221 327h4v4h-4zM241 327h8v4h-8zM265 327h8v4h-8zM225 331h16v4h-16zM273 331h8v4h-8zM401 331h4v4h-4zM281 335h4v4h-4zM281 339h4v4h-4zM397 339h4v4h-4zM285 343h4v4h-4zM285 347h4v4h-4zM393 347h4v4h-4zM285 351h4v4h-4zM389 351h4v4h-4zM285 355h4v4h-4zM381 359h4v4h-4zM289 363h4v4h-4zM377 363h4v4h-4zM293 367h4v4h-4zM369 367h4v4h-4zM297 371h4v4h-4zM365 371h4v4h-4zM301 375h4v4h-4zM357 375h4v4h-4zM305 379h8v4h-8zM325 379h12v4h-12zM353 379h4v4h-4zM309 383h44v4h-44zM313 387h12v4h-12zM337 387h12v4h-12zM313 391h8v4h-8zM341 391h4v4h-4z"/>
<path fill="#40f858" d="M321 187h4v4h-4zM325 191h4v4h-4zM329 195h4v4h-4zM345 199h4v4h-4zM353 203h4v4h-4zM281 207h4v4h-4zM373 219h4v4h-4zM385 223h4v4h-4zM253 227h4v4h-4zM401 231h4v4h-4zM249 235h4v4h-4zM245 251h4v4h-4zM225 279h4v4h-4zM213 287h4v4h-4zM421 287h4v4h-4zM421 303h4v4h-4zM209 319h4v4h-4zM237 335h4v4h-4zM273 335h4v4h-4zM393 351h4v4h-4zM281 355h4v4h-4zM285 367h4v4h-4zM289 371h4v4h-4zM293 375h4v4h-4zM365 375h4v4h-4zM301 383h4v4h-4zM357 383h4v4h-4zM353 391h4v4h-4zM353 395h4v4h-4z"/>
<path fill="#40f8b8" d="M341 187h4v4h-4zM353 191h4v4h-4zM365 199h4v4h-4zM257 211h4v4h-4zM401 223h4v4h-4zM237 247h4v4h-4zM233 255h4v4h-4zM209 279h4v4h-4zM205 283h4v4h-4zM433 283h4v4h-4zM197 307h4v4h-4zM421 319h4v4h-4zM205 327h4v4h-4zM209 331h4v4h-4zM413 331h4v4h-4zM229 343h4v4h-4zM257 347h4v4h-4zM261 351h4v4h-4zM397 359h4v4h-4zM269 363h4v4h-4zM385 371h4v4h-4zM285 379h4v4h-4zM365 395h4v4h-4z"/>
<path fill="#50f840" d="M305 191h12v4h-12zM305 195h12v4h-12zM305 199h16v4h-16zM301 203h20v4h-20zM301 207h8v4h-8zM317 207h12v4h-12zM293 211h8v4h-8zM329 211h12v4h-12zM285 215h8v4h-8zM337 215h12v4h-12zM281 219h4v4h-4zM345 219h8v4h-8zM277 223h4v4h-4zM353 223h8v4h-8zM273 227h4v4h-4zM357 227h12v4h-12zM265 231h8v4h-8zM377 231h16v4h-16zM261 235h4v4h-4zM397 235h4v4h-4zM257 239h4v4h-4zM401 239h4v4h-4zM257 243h4v4h-4zM409 243h4v4h-4zM253 247h4v4h-4zM413 247h4v4h-4zM253 251h4v4h-4zM413 251h4v4h-4zM413 255h4v4h-4zM249 259h4v4h-4zM409 259h4v4h-4zM249 263h4v4h-4zM409 263h4v4h-4zM401 267h8v4h-8zM245 271h4v4h-4zM397 271h12v4h-12zM245 275h4v4h-4zM397 275h8v4h-8zM241 279h4v4h-4zM393 279h8v4h-8zM237 283h4v4h-4zM393 283h8v4h-8zM233 287h4v4h-4zM393 287h16v4h-16zM229 291h8v4h-8zM397 291h16v4h-16zM225 295h8v4h-8zM397 295h16v4h-16zM221 299h12v4h-12zM401 299h12v4h-12zM221 303h12v4h-12zM405 303h8v4h-8zM217 307h12v4h-12zM405 307h4v4h-4zM217 311h12v4h-12zM405 311h4v4h-4zM217 315h8v4h-8zM405 315h4v4h-4zM217 319h8v4h-8zM221 323h4v4h-4zM245 323h16v4h-16zM401 323h4v4h-4zM225 327h4v4h-4zM237 327h4v4h-4zM273 327h4v4h-4zM401 327h4v4h-4zM397 335h4v4h-4zM285 339h4v4h-4zM393 343h4v4h-4zM289 351h4v4h-4zM289 355h4v4h-4zM385 355h4v4h-4zM289 359h4v4h-4zM293 363h4v4h-4zM373 363h4v4h-4zM365 367h4v4h-4zM301 371h4v4h-4zM361 371h4v4h-4zM305 375h32v4h-32zM353 375h4v4h-4zM313 379h12v4h-12zM337 379h16v4h-16z"/>
<path fill="#40f860" d="M333 195h4v4h-4zM289 199h4v4h-4zM285 203h4v4h-4zM369 215h4v4h-4zM265 219h4v4h-4zM257 223h4v4h-4zM413 239h4v4h-4zM241 259h4v4h-4zM237 267h4v4h-4zM233 271h4v4h-4zM229 275h4v4h-4zM217 283h4v4h-4zM421 283h4v4h-4zM209 291h4v4h-4zM205 303h4v4h-4zM205 307h4v4h-4zM417 311h4v4h-4zM409 323h4v4h-4zM265 331h4v4h-4zM225 335h4v4h-4zM281 359h4v4h-4zM297 379h4v4h-4zM361 379h4v4h-4z"/>
<path fill="#58f840" d="M309 207h8v4h-8zM301 211h8v4h-8zM317 211h12v4h-12zM293 215h4v4h-4zM329 215h8v4h-8zM285 219h4v4h-4zM341 219h4v4h-4zM281 223h4v4h-4zM345 223h8v4h-8zM277 227h4v4h-4zM353 227h4v4h-4zM273 231h4v4h-4zM365 231h12v4h-12zM265 235h8v4h-8zM393 235h4v4h-4zM261 239h4v4h-4zM261 243h4v4h-4zM405 243h4v4h-4zM257 247h4v4h-4zM409 247h4v4h-4zM409 251h4v4h-4zM253 255h4v4h-4zM409 255h4v4h-4zM253 259h4v4h-4zM405 259h4v4h-4zM401 263h8v4h-8zM249 267h4v4h-4zM397 267h4v4h-4zM249 271h4v4h-4zM393 271h4v4h-4zM249 275h4v4h-4zM393 275h4v4h-4zM245 279h4v4h-4zM241 283h8v4h-8zM237 287h8v4h-8zM237 291h4v4h-4zM393 291h4v4h-4zM233 295h4v4h-4zM393 295h4v4h-4zM233 299h4v4h-4zM397 299h4v4h-4zM233 303h4v4h-4zM401 303h4v4h-4zM229 307h4v4h-4zM401 307h4v4h-4zM229 311h4v4h-4zM401 311h4v4h-4zM225 315h8v4h-8zM401 315h4v4h-4zM225 319h4v4h-4zM401 319h4v4h-4zM225 323h8v4h-8zM237 323h8v4h-8zM261 323h8v4h-8zM229 327h8v4h-8zM277 327h4v4h-4zM281 331h4v4h-4zM397 331h4v4h-4zM285 335h4v4h-4zM393 339h4v4h-4zM289 343h4v4h-4zM289 347h4v4h-4zM389 347h4v4h-4zM385 351h4v4h-4zM381 355h4v4h-4zM293 359h4v4h-4zM377 359h4v4h-4zM369 363h4v4h-4zM297 367h4v4h-4zM361 367h4v4h-4zM305 371h4v4h-4zM353 371h8v4h-8zM337 375h16v4h-16z"/>
<path fill="#60f840" d="M309 211h8v4h-8zM297 215h8v4h-8zM321 215h8v4h-8zM289 219h4v4h-4zM333 219h8v4h-8zM285 223h4v4h-4zM341 223h4v4h-4zM281 227h4v4h-4zM349 227h4v4h-4zM357 231h8v4h-8zM369 235h24v4h-24zM265 239h4v4h-4zM393 239h8v4h-8zM401 243h4v4h-4zM261 247h4v4h-4zM405 247h4v4h-4zM257 251h4v4h-4zM405 251h4v4h-4zM257 255h4v4h-4zM405 255h4v4h-4zM401 259h4v4h-4zM253 263h4v4h-4zM397 263h4v4h-4zM253 267h4v4h-4zM393 267h4v4h-4zM389 275h4v4h-4zM249 279h4v4h-4zM389 279h4v4h-4zM249 283h4v4h-4zM389 283h4v4h-4zM245 287h4v4h-4zM389 287h4v4h-4zM241 291h4v4h-4zM389 291h4v4h-4zM237 295h4v4h-4zM237 299h4v4h-4zM393 299h4v4h-4zM397 303h4v4h-4zM233 307h4v4h-4zM397 307h4v4h-4zM233 311h4v4h-4zM397 311h4v4h-4zM233 315h4v4h-4zM229 319h24v4h-24zM233 323h4v4h-4zM269 323h4v4h-4zM397 323h4v4h-4zM397 327h4v4h-4zM393 335h4v4h-4zM289 339h4v4h-4zM389 343h4v4h-4zM293 355h4v4h-4zM373 359h4v4h-4zM297 363h4v4h-4zM365 363h4v4h-4zM301 367h4v4h-4zM357 367h4v4h-4zM309 371h44v4h-44z"/>
<path fill="#68f840" d="M305 215h16v4h-16zM293 219h8v4h-8zM325 219h8v4h-8zM289 223h4v4h-4zM337 223h4v4h-4zM345 227h4v4h-4zM277 231h4v4h-4zM353 231h4v4h-4zM273 235h4v4h-4zM361 235h8v4h-8zM269 239h4v4h-4zM385 239h8v4h-8zM265 243h4v4h-4zM397 243h4v4h-4zM401 247h4v4h-4zM261 251h4v4h-4zM401 251h4v4h-4zM397 255h8v4h-8zM257 259h4v4h-4zM397 259h4v4h-4zM393 263h4v4h-4zM389 267h4v4h-4zM253 271h4v4h-4zM389 271h4v4h-4zM253 275h4v4h-4zM253 279h4v4h-4zM249 287h4v4h-4zM245 291h4v4h-4zM241 295h4v4h-4zM389 295h4v4h-4zM389 299h4v4h-4zM237 303h4v4h-4zM393 303h4v4h-4zM237 307h4v4h-4zM393 307h4v4h-4zM237 311h4v4h-4zM237 315h8v4h-8zM397 315h4v4h-4zM253 319h8v4h-8zM397 319h4v4h-4zM273 323h4v4h-4zM281 327h4v4h-4zM285 331h4v4h-4zM393 331h4v4h-4zM289 335h4v4h-4zM293 347h4v4h-4zM385 347h4v4h-4zM293 351h4v4h-4zM381 351h4v4h-4zM377 355h4v4h-4zM297 359h4v4h-4zM369 359h4v4h-4zM301 363h4v4h-4zM361 363h4v4h-4zM305 367h8v4h-8zM329 367h8v4h-8zM349 367h8v4h-8z"/>
<path fill="#70f840" d="M301 219h8v4h-8zM317 219h8v4h-8zM293 223h4v4h-4zM333 223h4v4h-4zM285 227h4v4h-4zM341 227h4v4h-4zM281 231h4v4h-4zM349 231h4v4h-4zM277 235h4v4h-4zM273 239h4v4h-4zM369 239h16v4h-16zM269 243h4v4h-4zM389 243h8v4h-8zM265 247h4v4h-4zM393 247h8v4h-8zM397 251h4v4h-4zM261 255h4v4h-4zM393 255h4v4h-4zM393 259h4v4h-4zM257 263h4v4h-4zM389 263h4v4h-4zM257 267h4v4h-4zM253 283h4v4h-4zM241 299h4v4h-4zM389 303h4v4h-4zM241 311h4v4h-4zM393 311h4v4h-4zM245 315h4v4h-4zM393 315h4v4h-4zM261 319h4v4h-4zM277 323h4v4h-4zM393 327h4v4h-4zM389 339h4v4h-4zM293 343h4v4h-4zM297 355h4v4h-4zM373 355h4v4h-4zM365 359h4v4h-4zM357 363h4v4h-4zM313 367h16v4h-16zM337 367h12v4h-12z"/>
<path fill="#78f840" d="M309 219h8v4h-8zM297 223h4v4h-4zM329 223h4v4h-4zM289 227h4v4h-4zM337 227h4v4h-4zM345 231h4v4h-4zM357 235h4v4h-4zM365 239h4v4h-4zM381 243h8v4h-8zM269 247h4v4h-4zM389 247h4v4h-4zM265 251h4v4h-4zM393 251h4v4h-4zM389 255h4v4h-4zM261 259h4v4h-4zM389 259h4v4h-4zM257 271h4v4h-4zM257 275h4v4h-4zM385 275h4v4h-4zM257 279h4v4h-4zM385 279h4v4h-4zM385 283h4v4h-4zM253 287h4v4h-4zM385 287h4v4h-4zM249 291h4v4h-4zM385 291h4v4h-4zM245 295h4v4h-4zM241 303h4v4h-4zM241 307h4v4h-4zM389 307h4v4h-4zM249 315h4v4h-4zM265 319h4v4h-4zM393 319h4v4h-4zM393 323h4v4h-4zM285 327h4v4h-4zM289 331h4v4h-4zM389 335h4v4h-4zM293 339h4v4h-4zM385 343h4v4h-4zM381 347h4v4h-4zM377 351h4v4h-4zM301 359h4v4h-4zM305 363h4v4h-4zM349 363h8v4h-8z"/>
<path fill="#80f840" d="M301 223h4v4h-4zM321 223h8v4h-8zM333 227h4v4h-4zM285 231h4v4h-4zM281 235h4v4h-4zM353 235h4v4h-4zM277 239h4v4h-4zM361 239h4v4h-4zM273 243h4v4h-4zM373 243h8v4h-8zM385 247h4v4h-4zM389 251h4v4h-4zM265 255h4v4h-4zM261 263h4v4h-4zM385 263h4v4h-4zM385 267h4v4h-4zM385 271h4v4h-4zM257 283h4v4h-4zM385 295h4v4h-4zM245 299h4v4h-4zM385 299h4v4h-4zM245 311h4v4h-4zM389 311h4v4h-4zM253 315h4v4h-4zM269 319h4v4h-4zM281 323h4v4h-4zM389 331h4v4h-4zM293 335h4v4h-4zM297 351h4v4h-4zM369 355h4v4h-4zM357 359h8v4h-8zM309 363h4v4h-4zM325 363h24v4h-24z"/>
<path fill="#88f840" d="M305 223h16v4h-16zM293 227h4v4h-4zM329 227h4v4h-4zM289 231h4v4h-4zM341 231h4v4h-4zM349 235h4v4h-4zM369 243h4v4h-4zM273 247h4v4h-4zM377 247h8v4h-8zM269 251h4v4h-4zM385 251h4v4h-4zM385 255h4v4h-4zM385 259h4v4h-4zM261 267h4v4h-4zM261 271h4v4h-4zM261 275h4v4h-4zM261 279h4v4h-4zM257 287h4v4h-4zM253 291h4v4h-4zM249 295h4v4h-4zM245 303h4v4h-4zM385 303h4v4h-4zM245 307h4v4h-4zM257 315h4v4h-4zM389 315h4v4h-4zM273 319h4v4h-4zM389 319h4v4h-4zM289 327h4v4h-4zM389 327h4v4h-4zM385 339h4v4h-4zM297 347h4v4h-4zM373 351h4v4h-4zM365 355h4v4h-4zM353 359h4v4h-4zM313 363h12v4h-12z"/>
<path fill="#90f840" d="M297 227h8v4h-8zM325 227h4v4h-4zM337 231h4v4h-4zM285 235h4v4h-4zM281 239h4v4h-4zM357 239h4v4h-4zM277 243h4v4h-4zM365 243h4v4h-4zM373 247h4v4h-4zM381 251h4v4h-4zM269 255h4v4h-4zM381 255h4v4h-4zM265 259h4v4h-4zM261 283h4v4h-4zM249 299h4v4h-4zM385 307h4v4h-4zM249 311h4v4h-4zM261 315h4v4h-4zM285 323h4v4h-4zM389 323h4v4h-4zM293 331h4v4h-4zM385 335h4v4h-4zM297 343h4v4h-4zM381 343h4v4h-4zM377 347h4v4h-4zM301 355h4v4h-4zM361 355h4v4h-4zM305 359h4v4h-4zM337 359h16v4h-16z"/>
<path fill="#98f840" d="M305 227h20v4h-20zM293 231h4v4h-4zM333 231h4v4h-4zM289 235h4v4h-4zM345 235h4v4h-4zM353 239h4v4h-4zM361 243h4v4h-4zM277 247h4v4h-4zM369 247h4v4h-4zM273 251h4v4h-4zM377 251h4v4h-4zM269 259h4v4h-4zM381 259h4v4h-4zM265 263h4v4h-4zM381 263h4v4h-4zM265 267h4v4h-4zM381 267h4v4h-4zM381 271h4v4h-4zM261 287h4v4h-4zM257 291h4v4h-4zM253 295h4v4h-4zM249 303h4v4h-4zM249 307h4v4h-4zM253 311h4v4h-4zM385 311h4v4h-4zM265 315h4v4h-4zM277 319h4v4h-4zM297 339h4v4h-4zM369 351h4v4h-4zM353 355h8v4h-8zM309 359h4v4h-4zM329 359h8v4h-8z"/>
<path fill="#a0f840" d="M297 231h8v4h-8zM329 231h4v4h-4zM341 235h4v4h-4zM285 239h4v4h-4zM281 243h4v4h-4zM277 251h4v4h-4zM373 251h4v4h-4zM273 255h4v4h-4zM377 255h4v4h-4zM265 271h4v4h-4zM265 275h4v4h-4zM381 275h4v4h-4zM265 279h4v4h-4zM381 279h4v4h-4zM265 283h4v4h-4zM381 283h4v4h-4zM381 287h4v4h-4zM381 291h4v4h-4zM381 295h4v4h-4zM381 299h4v4h-4zM381 303h4v4h-4zM385 315h4v4h-4zM281 319h4v4h-4zM385 319h4v4h-4zM289 323h4v4h-4zM293 327h4v4h-4zM385 327h4v4h-4zM385 331h4v4h-4zM297 335h4v4h-4zM381 339h4v4h-4zM377 343h4v4h-4zM373 347h4v4h-4zM301 351h4v4h-4zM361 351h8v4h-8zM305 355h4v4h-4zM341 355h12v4h-12zM313 359h16v4h-16z"/>
<path fill="#a8f840" d="M305 231h24v4h-24zM293 235h8v4h-8zM337 235h4v4h-4zM289 239h4v4h-4zM349 239h4v4h-4zM285 243h4v4h-4zM357 243h4v4h-4zM281 247h4v4h-4zM365 247h4v4h-4zM369 251h4v4h-4zM277 255h4v4h-4zM273 259h4v4h-4zM377 259h4v4h-4zM269 263h4v4h-4zM269 267h4v4h-4zM265 287h4v4h-4zM261 291h4v4h-4zM257 295h4v4h-4zM253 299h4v4h-4zM253 303h4v4h-4zM253 307h4v4h-4zM381 307h4v4h-4zM257 311h4v4h-4zM269 315h4v4h-4zM385 323h4v4h-4zM297 331h4v4h-4zM301 347h4v4h-4zM369 347h4v4h-4zM353 351h8v4h-8zM333 355h8v4h-8z"/>
<path fill="#b0f840" d="M301 235h16v4h-16zM333 235h4v4h-4zM293 239h8v4h-8zM285 247h4v4h-4zM361 247h4v4h-4zM281 251h4v4h-4zM281 255h4v4h-4zM373 255h4v4h-4zM277 259h12v4h-12zM273 263h8v4h-8zM377 263h4v4h-4zM273 267h4v4h-4zM269 271h4v4h-4zM269 275h4v4h-4zM269 279h4v4h-4zM269 283h4v4h-4zM261 311h4v4h-4zM381 311h4v4h-4zM273 315h4v4h-4zM285 319h4v4h-4zM381 335h4v4h-4zM301 343h4v4h-4zM373 343h4v4h-4zM365 347h4v4h-4zM345 351h8v4h-8zM329 355h4v4h-4z"/>
<path fill="#b8f840" d="M317 235h16v4h-16zM301 239h12v4h-12zM345 239h4v4h-4zM289 243h24v4h-24zM353 243h4v4h-4zM301 247h12v4h-12zM285 251h4v4h-4zM297 251h16v4h-16zM365 251h4v4h-4zM285 255h28v4h-28zM289 259h20v4h-20zM281 263h20v4h-20zM277 267h12v4h-12zM377 267h4v4h-4zM273 271h4v4h-4zM265 291h4v4h-4zM261 295h4v4h-4zM257 299h4v4h-4zM257 307h4v4h-4zM277 315h4v4h-4zM381 315h4v4h-4zM381 319h4v4h-4zM293 323h4v4h-4zM297 327h4v4h-4zM381 331h4v4h-4zM301 339h4v4h-4zM377 339h4v4h-4zM353 347h12v4h-12zM305 351h4v4h-4zM341 351h4v4h-4zM309 355h4v4h-4zM325 355h4v4h-4z"/>
<path fill="#c0f840" d="M313 239h8v4h-8zM341 239h4v4h-4zM313 243h4v4h-4zM289 247h12v4h-12zM357 247h4v4h-4zM289 251h8v4h-8zM369 255h4v4h-4zM309 259h4v4h-4zM373 259h4v4h-4zM301 263h8v4h-8zM289 267h8v4h-8zM277 271h4v4h-4zM377 271h4v4h-4zM273 275h4v4h-4zM273 279h4v4h-4zM269 287h4v4h-4zM257 303h4v4h-4zM377 303h4v4h-4zM377 307h4v4h-4zM265 311h4v4h-4zM289 319h4v4h-4zM381 323h4v4h-4zM381 327h4v4h-4zM301 331h4v4h-4zM301 335h4v4h-4zM369 343h4v4h-4zM345 347h8v4h-8zM337 351h4v4h-4zM313 355h12v4h-12z"/>
<path fill="#c8f840" d="M321 239h4v4h-4zM337 239h4v4h-4zM349 243h4v4h-4zM313 247h4v4h-4zM313 251h4v4h-4zM361 251h4v4h-4zM313 255h4v4h-4zM313 259h4v4h-4zM373 263h4v4h-4zM297 267h4v4h-4zM281 271h8v4h-8zM277 275h4v4h-4zM377 275h4v4h-4zM273 283h4v4h-4zM269 291h4v4h-4zM265 295h4v4h-4zM377 295h4v4h-4zM261 299h4v4h-4zM377 299h4v4h-4zM261 307h4v4h-4zM269 311h4v4h-4zM377 311h4v4h-4zM281 315h4v4h-4zM297 323h4v4h-4zM377 335h4v4h-4zM373 339h4v4h-4zM349 343h20v4h-20zM305 347h4v4h-4zM341 347h4v4h-4zM333 351h4v4h-4z"/>
<path fill="#d0f840" d="M325 239h12v4h-12zM317 243h4v4h-4zM317 247h4v4h-4zM317 251h4v4h-4zM365 255h4v4h-4zM369 259h4v4h-4zM309 263h4v4h-4zM301 267h4v4h-4zM289 271h4v4h-4zM281 275h4v4h-4zM277 279h4v4h-4zM377 279h4v4h-4zM377 283h4v4h-4zM273 287h4v4h-4zM377 287h4v4h-4zM377 291h4v4h-4zM261 303h4v4h-4zM377 315h4v4h-4zM293 319h4v4h-4zM301 327h4v4h-4zM377 331h4v4h-4zM349 339h8v4h-8zM369 339h4v4h-4zM305 343h4v4h-4zM345 343h4v4h-4zM337 347h4v4h-4zM309 351h4v4h-4zM329 351h4v4h-4z"/>
<path fill="#d8f840" d="M321 243h4v4h-4zM345 243h4v4h-4zM353 247h4v4h-4zM357 251h4v4h-4zM317 255h4v4h-4zM317 259h4v4h-4zM313 263h4v4h-4zM305 267h4v4h-4zM373 267h4v4h-4zM293 271h4v4h-4zM285 275h4v4h-4zM269 295h4v4h-4zM265 299h4v4h-4zM265 307h4v4h-4zM273 311h4v4h-4zM285 315h4v4h-4zM377 319h4v4h-4zM377 323h4v4h-4zM377 327h4v4h-4zM305 335h4v4h-4zM349 335h8v4h-8zM373 335h4v4h-4zM305 339h4v4h-4zM345 339h4v4h-4zM357 339h12v4h-12zM341 343h4v4h-4zM333 347h4v4h-4zM313 351h4v4h-4zM325 351h4v4h-4z"/>
<path fill="#e0f840" d="M325 243h4v4h-4zM341 243h4v4h-4zM321 247h4v4h-4zM349 247h4v4h-4zM321 251h4v4h-4zM321 255h4v4h-4zM361 255h4v4h-4zM365 259h4v4h-4zM317 263h4v4h-4zM369 263h4v4h-4zM309 267h4v4h-4zM297 271h4v4h-4zM289 275h4v4h-4zM281 279h4v4h-4zM277 283h4v4h-4zM273 291h4v4h-4zM265 303h4v4h-4zM373 303h4v4h-4zM269 307h4v4h-4zM373 307h4v4h-4zM277 311h4v4h-4zM373 311h4v4h-4zM289 315h4v4h-4zM373 315h4v4h-4zM297 319h4v4h-4zM301 323h4v4h-4zM305 327h4v4h-4zM345 327h8v4h-8zM305 331h4v4h-4zM345 331h12v4h-12zM373 331h4v4h-4zM341 335h8v4h-8zM357 335h8v4h-8zM369 335h4v4h-4zM341 339h4v4h-4zM337 343h4v4h-4zM309 347h4v4h-4zM329 347h4v4h-4zM317 351h8v4h-8z"/>
<path fill="#e8f840" d="M329 243h12v4h-12zM325 247h4v4h-4zM345 247h4v4h-4zM353 251h4v4h-4zM357 255h4v4h-4zM321 259h4v4h-4zM313 267h4v4h-4zM301 271h4v4h-4zM373 271h4v4h-4zM277 287h4v4h-4zM273 295h4v4h-4zM269 299h4v4h-4zM373 299h4v4h-4zM269 303h4v4h-4zM273 307h4v4h-4zM281 311h4v4h-4zM349 319h4v4h-4zM373 319h4v4h-4zM305 323h4v4h-4zM345 323h12v4h-12zM373 323h4v4h-4zM341 327h4v4h-4zM353 327h8v4h-8zM373 327h4v4h-4zM341 331h4v4h-4zM357 331h8v4h-8zM369 331h4v4h-4zM365 335h4v4h-4zM337 339h4v4h-4zM309 343h4v4h-4zM333 343h4v4h-4zM325 347h4v4h-4z"/>
<path fill="#f0f840" d="M329 247h4v4h-4zM341 247h4v4h-4zM325 251h4v4h-4zM349 251h4v4h-4zM325 255h4v4h-4zM325 259h4v4h-4zM361 259h4v4h-4zM321 263h4v4h-4zM365 263h4v4h-4zM369 267h4v4h-4zM305 271h4v4h-4zM293 275h4v4h-4zM373 275h4v4h-4zM285 279h4v4h-4zM281 283h4v4h-4zM277 291h4v4h-4zM373 295h4v4h-4zM273 299h4v4h-4zM369 307h4v4h-4zM285 311h4v4h-4zM369 311h4v4h-4zM293 315h4v4h-4zM369 315h4v4h-4zM301 319h4v4h-4zM341 319h8v4h-8zM353 319h8v4h-8zM369 319h4v4h-4zM337 323h8v4h-8zM357 323h8v4h-8zM369 323h4v4h-4zM309 327h4v4h-4zM337 327h4v4h-4zM361 327h12v4h-12zM309 331h4v4h-4zM337 331h4v4h-4zM365 331h4v4h-4zM309 335h4v4h-4zM337 335h4v4h-4zM309 339h4v4h-4zM333 339h4v4h-4zM329 343h4v4h-4zM313 347h12v4h-12z"/>
<path fill="#f8f840" d="M333 247h8v4h-8zM329 251h4v4h-4zM345 251h4v4h-4zM329 255h4v4h-4zM353 255h4v4h-4zM329 259h4v4h-4zM357 259h4v4h-4zM325 263h4v4h-4zM317 267h4v4h-4zM297 275h4v4h-4zM289 279h4v4h-4zM373 279h4v4h-4zM373 283h4v4h-4zM281 287h4v4h-4zM373 291h4v4h-4zM273 303h4v4h-4zM369 303h4v4h-4zM277 307h4v4h-4zM289 311h4v4h-4zM365 311h4v4h-4zM297 315h4v4h-4zM341 315h28v4h-28zM305 319h4v4h-4zM337 319h4v4h-4zM361 319h8v4h-8zM309 323h4v4h-4zM333 323h4v4h-4zM365 323h4v4h-4zM333 327h4v4h-4zM333 331h4v4h-4zM333 335h4v4h-4zM329 339h4v4h-4zM313 343h4v4h-4zM325 343h4v4h-4z"/>
<path fill="#f8f040" d="M333 251h12v4h-12zM333 255h8v4h-8zM345 255h8v4h-8zM333 259h4v4h-4zM353 259h4v4h-4zM329 263h4v4h-4zM361 263h4v4h-4zM321 267h4v4h-4zM365 267h4v4h-4zM309 271h4v4h-4zM369 271h4v4h-4zM285 283h4v4h-4zM373 287h4v4h-4zM277 295h4v4h-4zM277 299h4v4h-4zM277 303h4v4h-4zM281 307h4v4h-4zM365 307h4v4h-4zM293 311h4v4h-4zM341 311h24v4h-24zM301 315h4v4h-4zM333 315h8v4h-8zM309 319h4v4h-4zM329 319h8v4h-8zM313 323h8v4h-8zM329 323h4v4h-4zM313 327h8v4h-8zM329 327h4v4h-4zM313 331h8v4h-8zM329 331h4v4h-4zM313 335h8v4h-8zM325 335h8v4h-8zM313 339h16v4h-16zM317 343h8v4h-8z"/>
<path fill="#f8e840" d="M341 255h4v4h-4zM301 275h4v4h-4zM281 291h4v4h-4zM369 299h4v4h-4zM329 315h4v4h-4zM313 319h4v4h-4zM325 319h4v4h-4zM321 323h8v4h-8zM321 327h8v4h-8zM325 331h4v4h-4z"/>
<path fill="#ffe840" d="M337 259h16v4h-16zM333 263h4v4h-4zM357 263h4v4h-4zM325 267h4v4h-4zM313 271h4v4h-4zM293 279h4v4h-4zM281 303h4v4h-4zM365 303h4v4h-4zM285 307h4v4h-4zM357 307h8v4h-8zM333 311h8v4h-8zM305 315h4v4h-4zM325 315h4v4h-4zM317 319h8v4h-8zM321 331h4v4h-4zM321 335h4v4h-4z"/>
<path fill="#ffe040" d="M337 263h20v4h-20zM329 267h4v4h-4zM361 267h4v4h-4zM317 271h4v4h-4zM365 271h4v4h-4zM305 275h4v4h-4zM369 275h4v4h-4zM289 283h4v4h-4zM285 287h4v4h-4zM281 295h4v4h-4zM369 295h4v4h-4zM281 299h4v4h-4zM289 307h4v4h-4zM345 307h12v4h-12zM297 311h8v4h-8zM325 311h8v4h-8zM309 315h16v4h-16z"/>
<path fill="#ffd840" d="M333 267h8v4h-8zM353 267h8v4h-8zM321 271h4v4h-4zM309 275h4v4h-4zM297 279h4v4h-4zM369 279h4v4h-4zM285 291h4v4h-4zM369 291h4v4h-4zM285 295h4v4h-4zM285 299h4v4h-4zM365 299h4v4h-4zM285 303h4v4h-4zM357 303h8v4h-8zM293 307h4v4h-4zM333 307h12v4h-12zM305 311h20v4h-20z"/>
<path fill="#ffd040" d="M341 267h12v4h-12zM325 271h4v4h-4zM361 271h4v4h-4zM365 275h4v4h-4zM301 279h4v4h-4zM293 283h4v4h-4zM369 283h4v4h-4zM289 287h4v4h-4zM369 287h4v4h-4zM361 299h4v4h-4zM289 303h4v4h-4zM349 303h8v4h-8zM297 307h4v4h-4zM325 307h8v4h-8z"/>
<path fill="#ffc840" d="M329 271h8v4h-8zM353 271h8v4h-8zM313 275h4v4h-4zM297 283h4v4h-4zM289 291h4v4h-4zM289 295h4v4h-4zM365 295h4v4h-4zM289 299h4v4h-4zM293 303h4v4h-4zM341 303h8v4h-8zM301 307h24v4h-24z"/>
<path fill="#ffc040" d="M337 271h16v4h-16zM317 275h4v4h-4zM361 275h4v4h-4zM305 279h4v4h-4zM365 279h4v4h-4zM365 283h4v4h-4zM293 287h4v4h-4zM365 291h4v4h-4zM361 295h4v4h-4zM293 299h4v4h-4zM353 299h8v4h-8zM297 303h4v4h-4zM329 303h12v4h-12z"/>
<path fill="#ffb840" d="M321 275h4v4h-4zM357 275h4v4h-4zM309 279h4v4h-4zM361 279h4v4h-4zM301 283h4v4h-4zM297 287h4v4h-4zM365 287h4v4h-4zM293 291h4v4h-4zM293 295h4v4h-4zM297 299h4v4h-4zM349 299h4v4h-4zM301 303h8v4h-8zM321 303h8v4h-8z"/>
<path fill="#ffb040" d="M325 275h12v4h-12zM341 275h16v4h-16zM313 279h4v4h-4zM361 283h4v4h-4zM297 291h4v4h-4zM361 291h4v4h-4zM297 295h4v4h-4zM357 295h4v4h-4zM301 299h4v4h-4zM341 299h8v4h-8zM309 303h12v4h-12z"/>
<path fill="#ffa840" d="M337 275h4v4h-4zM317 279h4v4h-4zM353 279h8v4h-8zM305 283h4v4h-4zM301 287h4v4h-4zM361 287h4v4h-4zM357 291h4v4h-4zM349 295h8v4h-8zM305 299h4v4h-4zM333 299h8v4h-8z"/>
<path fill="#ff9840" d="M321 279h8v4h-8zM341 279h8v4h-8zM353 283h4v4h-4zM305 287h4v4h-4zM353 287h4v4h-4zM349 291h4v4h-4zM305 295h4v4h-4zM341 295h4v4h-4z"/>
<path fill="#ff9040" d="M329 279h12v4h-12zM313 283h4v4h-4zM349 283h4v4h-4zM305 291h4v4h-4zM309 295h4v4h-4zM337 295h4v4h-4z"/>
<path fill="#ffa040" d="M349 279h4v4h-4zM309 283h4v4h-4zM357 283h4v4h-4zM357 287h4v4h-4zM301 291h4v4h-4zM353 291h4v4h-4zM301 295h4v4h-4zM345 295h4v4h-4zM309 299h24v4h-24z"/>
<path fill="#ff8840" d="M317 283h4v4h-4zM345 283h4v4h-4zM309 287h4v4h-4zM349 287h4v4h-4zM309 291h4v4h-4zM345 291h4v4h-4zM313 295h8v4h-8zM325 295h12v4h-12z"/>
<path fill="#ff8040" d="M321 283h4v4h-4zM341 283h4v4h-4zM313 287h4v4h-4zM345 287h4v4h-4zM313 291h4v4h-4zM341 291h4v4h-4zM321 295h4v4h-4z"/>
<path fill="#ff7840" d="M325 283h16v4h-16zM317 287h4v4h-4zM341 287h4v4h-4zM317 291h4v4h-4zM333 291h8v4h-8z"/>
<path fill="#ff7040" d="M321 287h20v4h-20zM321 291h12v4h-12z"/>
  </g></g>
  <defs>
    <filter id="mblur" x="-50%" y="-50%" width="200%" height="200%"><feGaussianBlur stdDeviation="12"/></filter>
    <mask id="limbmask" maskUnits="userSpaceOnUse" x="0" y="0" width="640" height="480">
      <g filter="url(#mblur)" fill="#fff">
        <ellipse cx="165" cy="255" rx="22" ry="70"/>
        <ellipse cx="477" cy="285" rx="22" ry="55"/>
      </g>
    </mask>
  </defs>
  <g clip-path="url(#disc)"><circle cx="321" cy="238.5" r="156" fill="none" stroke="#1a78e8" stroke-width="8" stroke-opacity="0.35" mask="url(#limbmask)" filter="url(#soft)"/></g>
  <circle cx="321" cy="238.5" r="158.9" fill="none" stroke="#48e8ff" stroke-width="1" stroke-opacity="0.45"/>
  <g clip-path="url(#disc)">
  <path d="M269.6,349.1L268.5,348.2L267.5,347.4L266.4,346.5L265.4,345.6L264.4,344.7L263.5,343.8L262.5,342.9L261.5,341.9L260.6,341.0L259.7,340.0L258.8,339.0L258.0,338.0L257.1,337.0L256.3,335.9L255.5,334.9L254.7,333.8L253.9,332.7L253.2,331.7L252.4,330.6L251.7,329.5L251.0,328.3L250.4,327.2L249.7,326.1L249.1,324.9L248.5,323.8L247.9,322.6L247.4,321.4L246.8,320.2L246.3,319.0L245.8,317.8L245.4,316.6L244.9,315.4L244.5,314.2L244.1,312.9L243.7,311.7L243.4,310.5L243.1,309.2L242.7,308.0L242.5,306.7L242.2,305.4L242.0,304.2L241.8,302.9L241.6,301.6L241.4,300.3L241.3,299.1L241.2,297.8L241.1,296.5L241.0,295.2L241.0,293.9L241.0,292.6L241.0,291.4L241.0,290.1L241.1,288.8L241.2,287.5L241.3,286.2L241.4,284.9L241.6,283.7L241.8,282.4L242.0,281.1L242.2,279.9L242.5,278.6L242.7,277.3L243.1,276.1L243.4,274.8L243.7,273.6L244.1,272.3L244.5,271.1L244.9,269.9L245.4,268.7L245.8,267.5L246.3,266.3L246.8,265.1L247.4,263.9L247.9,262.7L248.5,261.5L249.1,260.4L249.7,259.2L250.4,258.1L251.0,256.9L251.7,255.8L252.4,254.7L253.2,253.6L253.9,252.5L254.7,251.5L255.5,250.4L256.3,249.4L257.1,248.3L258.0,247.3L258.8,246.3L259.7,245.3L260.6,244.3L261.5,243.4L262.5,242.4L263.5,241.5L264.4,240.6L265.4,239.7L266.4,238.8L267.5,237.9L268.5,237.1L269.6,236.2L270.7,235.4L271.7,234.6L272.9,233.8L274.0,233.1L275.1,232.3L276.3,231.6L277.4,230.9L278.6,230.2L279.8,229.5L281.0,228.9L282.2,228.2L283.4,227.6L284.7,227.0L285.9,226.5L287.2,225.9L288.5,225.4L289.7,224.9L291.0,224.4L292.3,223.9L293.6,223.4L295.0,223.0L296.3,222.6L297.6,222.2L298.9,221.9L300.3,221.5L301.6,221.2L303.0,220.9L304.4,220.6L305.7,220.4L307.1,220.1L308.5,219.9L309.9,219.7L311.3,219.5L312.6,219.4L314.0,219.3L315.4,219.2L316.8,219.1L318.2,219.0L319.6,219.0L321.0,219.0L322.4,219.0L323.8,219.0L325.2,219.1L326.6,219.2L328.0,219.3L329.4,219.4L330.7,219.5L332.1,219.7L333.5,219.9L334.9,220.1L336.3,220.4L337.6,220.6L339.0,220.9L340.4,221.2L341.7,221.5L343.1,221.9L344.4,222.2L345.7,222.6L347.0,223.0L348.4,223.4L349.7,223.9L351.0,224.4L352.3,224.9L353.5,225.4L354.8,225.9L356.1,226.5L357.3,227.0L358.6,227.6L359.8,228.2L361.0,228.9L362.2,229.5L363.4,230.2L364.6,230.9L365.7,231.6L366.9,232.3L368.0,233.1L369.1,233.8L370.3,234.6L371.3,235.4L372.4,236.2L373.5,237.1L374.5,237.9L375.6,238.8L376.6,239.7L377.6,240.6L378.5,241.5L379.5,242.4L380.5,243.4L381.4,244.3L382.3,245.3L383.2,246.3L384.0,247.3L384.9,248.3L385.7,249.4L386.5,250.4L387.3,251.5L388.1,252.5L388.8,253.6L389.6,254.7L390.3,255.8L391.0,256.9L391.6,258.1L392.3,259.2L392.9,260.4L393.5,261.5L394.1,262.7L394.6,263.9L395.2,265.1L395.7,266.3L396.2,267.5L396.6,268.7L397.1,269.9L397.5,271.1L397.9,272.3L398.3,273.6L398.6,274.8L398.9,276.1L399.3,277.3L399.5,278.6L399.8,279.9L400.0,281.1L400.2,282.4L400.4,283.7L400.6,284.9L400.7,286.2L400.8,287.5L400.9,288.8L401.0,290.1L401.0,291.4L401.0,292.6L401.0,293.9L401.0,295.2L400.9,296.5L400.8,297.8L400.7,299.1L400.6,300.3L400.4,301.6L400.2,302.9L400.0,304.2L399.8,305.4L399.5,306.7L399.3,308.0L398.9,309.2L398.6,310.5L398.3,311.7L397.9,312.9L397.5,314.2L397.1,315.4L396.6,316.6L396.2,317.8L395.7,319.0L395.2,320.2L394.6,321.4L394.1,322.6L393.5,323.8L392.9,324.9L392.3,326.1L391.6,327.2L391.0,328.3L390.3,329.5L389.6,330.6L388.8,331.7L388.1,332.7L387.3,333.8L386.5,334.9L385.7,335.9L384.9,337.0L384.0,338.0L383.2,339.0L382.3,340.0L381.4,341.0L380.5,341.9L379.5,342.9L378.5,343.8L377.6,344.7L376.6,345.6L375.6,346.5L374.5,347.4L373.5,348.2L372.4,349.1L371.3,349.9L370.3,350.7L369.1,351.5L368.0,352.2L366.9,353.0L365.7,353.7L364.6,354.4L363.4,355.1L362.2,355.8L361.0,356.4L359.8,357.0L358.6,357.7L357.3,358.3L356.1,358.8L354.8,359.4L353.5,359.9L352.3,360.4L351.0,360.9L349.7,361.4L348.4,361.8L347.0,362.3L345.7,362.7L344.4,363.1L343.1,363.4L341.7,363.8L340.4,364.1L339.0,364.4L337.6,364.7L336.3,364.9L334.9,365.2L333.5,365.4L332.1,365.6L330.7,365.7L329.4,365.9L328.0,366.0L326.6,366.1L325.2,366.2L323.8,366.2L322.4,366.3L321.0,366.3L319.6,366.3L318.2,366.2L316.8,366.2L315.4,366.1L314.0,366.0L312.6,365.9L311.3,365.7L309.9,365.6L308.5,365.4L307.1,365.2L305.7,364.9L304.4,364.7L303.0,364.4L301.6,364.1L300.3,363.8L298.9,363.4L297.6,363.1L296.3,362.7L295.0,362.3L293.6,361.8L292.3,361.4L291.0,360.9L289.7,360.4L288.5,359.9L287.2,359.4L285.9,358.8L284.7,358.3L283.4,357.7L282.2,357.0L281.0,356.4L279.8,355.8L278.6,355.1L277.4,354.4L276.3,353.7L275.1,353.0L274.0,352.2L272.9,351.5L271.7,350.7L270.7,349.9L269.6,349.1M231.9,367.5L230.1,366.0L228.3,364.5L226.5,363.0L224.7,361.5L223.0,359.9L221.3,358.4L219.7,356.7L218.0,355.1L216.4,353.4L214.9,351.7L213.3,350.0L211.8,348.3L210.3,346.5L208.9,344.7L207.5,342.9L206.1,341.1L204.8,339.2L203.5,337.3L202.2,335.5L201.0,333.5L199.8,331.6L198.7,329.6L197.5,327.7L196.5,325.7L195.4,323.7L194.4,321.6L193.5,319.6L192.5,317.5L191.6,315.5L190.8,313.4L190.0,311.3L189.2,309.2L188.5,307.1L187.8,304.9L187.2,302.8L186.6,300.6L186.0,298.5L185.5,296.3L185.0,294.1L184.5,291.9L184.1,289.7L183.8,287.5L183.5,285.3L183.2,283.1L183.0,280.9L182.8,278.7L182.6,276.4L182.5,274.2L182.5,272.0L182.4,269.8L182.5,267.5L182.5,265.3L182.6,263.1L182.8,260.9L183.0,258.6L183.2,256.4L183.5,254.2L183.8,252.0L184.1,249.8L184.5,247.6L185.0,245.4L185.5,243.2L186.0,241.1L186.6,238.9L187.2,236.7L187.8,234.6L188.5,232.5L189.2,230.3L190.0,228.2L190.8,226.1L191.6,224.0L192.5,222.0L193.5,219.9L194.4,217.9L195.4,215.9L196.5,213.8L197.5,211.9L198.7,209.9L199.8,207.9L201.0,206.0L202.2,204.1L203.5,202.2L204.8,200.3L206.1,198.4L207.5,196.6L208.9,194.8L210.3,193.0L211.8,191.2L213.3,189.5L214.9,187.8L216.4,186.1L218.0,184.4L219.7,182.8L221.3,181.2L223.0,179.6L224.7,178.0L226.5,176.5L228.3,175.0L230.1,173.5L231.9,172.1L233.8,170.6L235.7,169.2L237.6,167.9L239.6,166.6L241.5,165.3L243.5,164.0L245.5,162.8L247.6,161.6L249.6,160.4L251.7,159.3L253.8,158.2L255.9,157.1L258.1,156.1L260.3,155.1L262.4,154.2L264.6,153.2L266.9,152.3L269.1,151.5L271.3,150.7L273.6,149.9L275.9,149.2L278.2,148.5L280.5,147.8L282.8,147.2L285.1,146.6L287.5,146.0L289.8,145.5L292.2,145.0L294.6,144.6L296.9,144.1L299.3,143.8L301.7,143.5L304.1,143.2L306.5,142.9L308.9,142.7L311.3,142.5L313.7,142.4L316.2,142.3L318.6,142.2L321.0,142.2L323.4,142.2L325.8,142.3L328.3,142.4L330.7,142.5L333.1,142.7L335.5,142.9L337.9,143.2L340.3,143.5L342.7,143.8L345.1,144.1L347.4,144.6L349.8,145.0L352.2,145.5L354.5,146.0L356.9,146.6L359.2,147.2L361.5,147.8L363.8,148.5L366.1,149.2L368.4,149.9L370.7,150.7L372.9,151.5L375.1,152.3L377.4,153.2L379.6,154.2L381.7,155.1L383.9,156.1L386.1,157.1L388.2,158.2L390.3,159.3L392.4,160.4L394.4,161.6L396.5,162.8L398.5,164.0L400.5,165.3L402.4,166.6L404.4,167.9L406.3,169.2L408.2,170.6L410.1,172.1L411.9,173.5L413.7,175.0L415.5,176.5L417.3,178.0L419.0,179.6L420.7,181.2L422.3,182.8L424.0,184.4L425.6,186.1L427.1,187.8L428.7,189.5L430.2,191.2L431.7,193.0L433.1,194.8L434.5,196.6L435.9,198.4L437.2,200.3L438.5,202.2L439.8,204.1L441.0,206.0L442.2,207.9L443.3,209.9L444.5,211.9L445.5,213.8L446.6,215.9L447.6,217.9L448.5,219.9L449.5,222.0L450.4,224.0L451.2,226.1L452.0,228.2L452.8,230.3L453.5,232.5L454.2,234.6L454.8,236.7L455.4,238.9L456.0,241.1L456.5,243.2L457.0,245.4L457.5,247.6L457.9,249.8L458.2,252.0L458.5,254.2L458.8,256.4L459.0,258.6L459.2,260.9L459.4,263.1L459.5,265.3L459.5,267.5L459.6,269.8L459.5,272.0L459.5,274.2L459.4,276.4L459.2,278.7L459.0,280.9L458.8,283.1L458.5,285.3L458.2,287.5L457.9,289.7L457.5,291.9L457.0,294.1L456.5,296.3L456.0,298.5L455.4,300.6L454.8,302.8L454.2,304.9L453.5,307.1L452.8,309.2L452.0,311.3L451.2,313.4L450.4,315.5L449.5,317.5L448.5,319.6L447.6,321.6L446.6,323.7L445.5,325.7L444.5,327.7L443.3,329.6L442.2,331.6L441.0,333.5L439.8,335.5L438.5,337.3L437.2,339.2L435.9,341.1L434.5,342.9L433.1,344.7L431.7,346.5L430.2,348.3L428.7,350.0L427.1,351.7L425.6,353.4L424.0,355.1L422.3,356.7L420.7,358.4L419.0,359.9L417.3,361.5L415.5,363.0L413.7,364.5L411.9,366.0L410.1,367.5L408.2,368.9L406.3,370.3L404.4,371.6L402.4,372.9L400.5,374.2L398.5,375.5L396.5,376.7L394.4,377.9L392.4,379.1L390.3,380.2L388.2,381.3L386.1,382.4L383.9,383.4L381.7,384.4L379.6,385.4L377.4,386.3L375.1,387.2L372.9,388.0L370.7,388.8L368.4,389.6L366.1,390.4L363.8,391.1L361.5,391.7L359.2,392.4L356.9,393.0L354.5,393.5L352.2,394.0L349.8,394.5L347.4,395.0L345.1,395.4L342.7,395.7L340.3,396.1L337.9,396.4L335.5,396.6L333.1,396.8L330.7,397.0L328.3,397.1L325.8,397.2L323.4,397.3L321.0,397.3L318.6,397.3L316.2,397.2L313.7,397.1L311.3,397.0L308.9,396.8L306.5,396.6L304.1,396.4L301.7,396.1L299.3,395.7L296.9,395.4L294.6,395.0L292.2,394.5L289.8,394.0L287.5,393.5L285.1,393.0L282.8,392.4L280.5,391.7L278.2,391.1L275.9,390.4L273.6,389.6L271.3,388.8L269.1,388.0L266.9,387.2L264.6,386.3L262.4,385.4L260.3,384.4L258.1,383.4L255.9,382.4L253.8,381.3L251.7,380.2L249.6,379.1L247.6,377.9L245.5,376.7L243.5,375.5L241.5,374.2L239.6,372.9L237.6,371.6L235.7,370.3L233.8,368.9L231.9,367.5M161.0,238.5L161.0,235.9L161.1,233.4L161.2,230.8L161.4,228.2L161.6,225.7L161.9,223.1L162.2,220.6L162.6,218.0L163.0,215.5L163.4,212.9L163.9,210.4L164.5,207.9L165.1,205.4L165.8,202.9L166.5,200.4L167.2,197.9L168.0,195.4L168.8,193.0L169.7,190.6L170.6,188.1L171.6,185.7L172.7,183.3L173.7,181.0L174.8,178.6L176.0,176.3L177.2,173.9L178.4,171.6L179.7,169.4L181.1,167.1L182.4,164.9L183.9,162.6L185.3,160.5L186.8,158.3L188.4,156.1L189.9,154.0L191.6,151.9L193.2,149.9L194.9,147.8L196.7,145.8L198.4,143.8L200.2,141.9L202.1,139.9L204.0,138.1L205.9,136.2L207.9,134.4L209.9,132.6L211.9,130.8L213.9,129.0L216.0,127.3L218.2,125.7L220.3,124.0L222.5,122.4L224.7,120.9L227.0,119.3L229.2,117.9L231.5,116.4L233.9,115.0L236.2,113.6L238.6,112.3L241.0,111.0L243.4,109.7L245.9,108.5L248.4,107.3L250.9,106.1L253.4,105.0L255.9,104.0L258.5,102.9L261.1,101.9L263.7,101.0L266.3,100.1L268.9,99.2L271.6,98.4L274.2,97.7L276.9,96.9L279.6,96.2L282.3,95.6L285.0,95.0L287.7,94.4L290.5,93.9L293.2,93.5L296.0,93.0L298.7,92.7L301.5,92.3L304.3,92.0L307.1,91.8L309.8,91.6L312.6,91.4L315.4,91.3L318.2,91.2L321.0,91.2L323.8,91.2L326.6,91.3L329.4,91.4L332.2,91.6L334.9,91.8L337.7,92.0L340.5,92.3L343.3,92.7L346.0,93.0L348.8,93.5L351.5,93.9L354.3,94.4L357.0,95.0L359.7,95.6L362.4,96.2L365.1,96.9L367.8,97.7L370.4,98.4L373.1,99.2L375.7,100.1L378.3,101.0L380.9,101.9L383.5,102.9L386.1,104.0L388.6,105.0L391.1,106.1L393.6,107.3L396.1,108.5L398.6,109.7L401.0,111.0L403.4,112.3L405.8,113.6L408.1,115.0L410.5,116.4L412.8,117.9L415.0,119.3L417.3,120.9L419.5,122.4L421.7,124.0L423.8,125.7L426.0,127.3L428.1,129.0L430.1,130.8L432.1,132.6L434.1,134.4L436.1,136.2L438.0,138.1L439.9,139.9L441.8,141.9L443.6,143.8L445.3,145.8L447.1,147.8L448.8,149.9L450.4,151.9L452.1,154.0L453.6,156.1L455.2,158.3L456.7,160.5L458.1,162.6L459.6,164.9L460.9,167.1L462.3,169.4L463.6,171.6L464.8,173.9L466.0,176.3L467.2,178.6L468.3,181.0L469.3,183.3L470.4,185.7L471.4,188.1L472.3,190.6L473.2,193.0L474.0,195.4L474.8,197.9L475.5,200.4L476.2,202.9L476.9,205.4L477.5,207.9L478.1,210.4L478.6,212.9L479.0,215.5L479.4,218.0L479.8,220.6L480.1,223.1L480.4,225.7L480.6,228.2L480.8,230.8L480.9,233.4L481.0,235.9L481.0,238.5M321.0,301.0L319.2,303.0L317.4,304.9L315.6,306.8L313.8,308.7L312.0,310.6L310.2,312.5L308.5,314.3L306.7,316.1L304.9,317.9L303.1,319.7L301.4,321.4L299.6,323.1L297.9,324.8L296.1,326.5L294.4,328.1L292.7,329.7L290.9,331.3L289.2,332.8L287.5,334.3L285.8,335.8L284.1,337.3L282.5,338.7L280.8,340.1L279.2,341.5L277.5,342.8L275.9,344.1L274.3,345.4L272.7,346.7L271.1,347.9L269.6,349.1L268.0,350.2L266.5,351.3L265.0,352.4L263.5,353.4L262.0,354.4L260.5,355.4L259.1,356.3L257.7,357.2L256.3,358.1L254.9,358.9L253.5,359.7L252.2,360.5L250.9,361.2L249.6,361.8L248.3,362.5L247.0,363.1L245.8,363.7L244.6,364.2L243.4,364.7L242.2,365.1L241.1,365.5L240.0,365.9L238.9,366.2L237.8,366.5L236.8,366.8L235.7,367.0L234.7,367.2L233.8,367.3L232.8,367.4L231.9,367.5L231.0,367.5L230.2,367.5L229.4,367.4L228.6,367.3L227.8,367.2L227.0,367.0L226.3,366.8L225.6,366.5L225.0,366.2L224.4,365.9L223.8,365.5M321.0,301.0L318.4,301.9L315.8,302.7L313.1,303.6L310.5,304.4L307.9,305.2L305.3,305.9L302.7,306.7L300.1,307.4L297.5,308.1L294.9,308.8L292.3,309.5L289.7,310.1L287.2,310.7L284.6,311.3L282.1,311.9L279.6,312.5L277.0,313.0L274.5,313.5L272.1,314.0L269.6,314.5L267.1,314.9L264.7,315.3L262.3,315.7L259.8,316.1L257.5,316.4L255.1,316.8L252.7,317.1L250.4,317.3L248.1,317.6L245.8,317.8L243.6,318.0L241.3,318.2L239.1,318.4L236.9,318.5L234.8,318.6L232.6,318.7L230.5,318.7L228.4,318.8L226.4,318.8L224.4,318.8L222.4,318.7L220.4,318.7L218.5,318.6L216.6,318.5L214.7,318.3L212.8,318.2L211.0,318.0L209.3,317.8L207.5,317.5L205.8,317.3L204.2,317.0L202.5,316.7L200.9,316.4L199.4,316.0L197.8,315.6L196.4,315.2L194.9,314.8L193.5,314.3L192.1,313.9L190.8,313.4L189.5,312.9L188.2,312.3L187.0,311.8L185.9,311.2L184.7,310.6L183.6,309.9L182.6,309.3L181.6,308.6L180.6,307.9L179.7,307.2L178.8,306.5L178.0,305.7L177.2,305.0L176.5,304.2L175.8,303.3L175.1,302.5L174.5,301.6L173.9,300.8L173.4,299.9L172.9,299.0L172.5,298.0M321.0,301.0L318.3,300.6L315.5,300.1L312.8,299.6L310.0,299.1L307.3,298.6L304.5,298.0L301.8,297.4L299.1,296.8L296.4,296.2L293.6,295.6L290.9,295.0L288.2,294.3L285.6,293.7L282.9,293.0L280.2,292.3L277.6,291.5L274.9,290.8L272.3,290.1L269.7,289.3L267.1,288.5L264.5,287.7L262.0,286.9L259.4,286.1L256.9,285.2L254.4,284.4L251.9,283.5L249.5,282.6L247.0,281.7L244.6,280.8L242.2,279.9L239.8,278.9L237.5,278.0L235.2,277.0L232.9,276.0L230.6,275.0L228.4,274.0L226.2,273.0L224.0,272.0L221.8,271.0L219.7,270.0L217.6,268.9L215.6,267.8L213.5,266.8L211.5,265.7L209.6,264.6L207.7,263.5L205.8,262.4L203.9,261.3L202.1,260.2L200.3,259.1L198.5,258.0L196.8,256.8L195.2,255.7L193.5,254.6L191.9,253.4L190.4,252.3L188.9,251.1L187.4,249.9L185.9,248.8L184.5,247.6L183.2,246.4L181.9,245.3L180.6,244.1L179.4,242.9L178.2,241.7L177.1,240.6L176.0,239.4L174.9,238.2L173.9,237.0L172.9,235.8L172.0,234.7L171.1,233.5L170.3,232.3L169.5,231.1L168.8,230.0L168.1,228.8L167.5,227.6L166.9,226.5L166.3,225.3L165.8,224.2L165.4,223.0L165.0,221.9L164.6,220.7L164.3,219.6L164.0,218.5L163.8,217.3L163.6,216.2L163.5,215.1L163.5,214.0L163.4,212.9L163.5,211.8L163.5,210.8L163.6,209.7L163.8,208.6M321.0,301.0L318.9,299.4L316.7,297.7L314.6,296.0L312.5,294.3L310.3,292.5L308.2,290.8L306.1,289.0L303.9,287.2L301.8,285.4L299.7,283.6L297.6,281.8L295.5,280.0L293.4,278.1L291.3,276.3L289.3,274.4L287.2,272.5L285.2,270.6L283.1,268.7L281.1,266.8L279.1,264.9L277.1,262.9L275.1,261.0L273.1,259.1L271.1,257.1L269.2,255.2L267.3,253.2L265.4,251.2L263.5,249.3L261.6,247.3L259.7,245.3L257.9,243.3L256.0,241.3L254.2,239.4L252.5,237.4L250.7,235.4L249.0,233.4L247.2,231.5L245.5,229.5L243.9,227.5L242.2,225.5L240.6,223.6L239.0,221.6L237.4,219.7L235.9,217.7L234.3,215.8L232.8,213.8L231.4,211.9L229.9,210.0L228.5,208.1L227.1,206.2L225.7,204.3L224.4,202.4L223.1,200.5L221.8,198.7L220.6,196.8L219.4,195.0L218.2,193.2L217.1,191.3L215.9,189.6L214.9,187.8L213.8,186.0L212.8,184.3L211.8,182.5L210.8,180.8L209.9,179.1L209.0,177.4L208.2,175.8L207.4,174.1L206.6,172.5L205.8,170.9L205.1,169.3L204.4,167.8L203.8,166.2L203.2,164.7L202.6,163.2L202.1,161.8L201.6,160.3L201.1,158.9L200.7,157.5L200.3,156.1L199.9,154.8L199.6,153.5L199.3,152.2L199.1,150.9L198.9,149.6L198.7,148.4L198.6,147.2L198.5,146.1L198.5,144.9L198.4,143.8L198.5,142.8L198.5,141.7L198.6,140.7L198.7,139.7L198.9,138.7L199.1,137.8L199.3,136.9L199.6,136.1L199.9,135.2L200.3,134.4L200.7,133.6L201.1,132.9L201.6,132.2L202.1,131.5L202.6,130.9M321.0,301.0L320.0,298.6L319.1,296.1L318.1,293.7L317.2,291.2L316.2,288.7L315.3,286.2L314.3,283.7L313.4,281.1L312.4,278.6L311.5,276.0L310.6,273.5L309.6,270.9L308.7,268.3L307.8,265.7L306.8,263.1L305.9,260.4L305.0,257.8L304.1,255.2L303.2,252.6L302.3,249.9L301.4,247.3L300.5,244.6L299.6,242.0L298.7,239.3L297.9,236.7L297.0,234.0L296.2,231.4L295.3,228.7L294.5,226.1L293.6,223.4L292.8,220.8L292.0,218.2L291.2,215.6L290.4,212.9L289.6,210.3L288.8,207.7L288.1,205.1L287.3,202.6L286.6,200.0L285.8,197.4L285.1,194.9L284.4,192.4L283.7,189.8L283.0,187.3L282.3,184.8L281.6,182.4L281.0,179.9L280.3,177.5L279.7,175.1L279.1,172.7L278.5,170.3L277.9,167.9L277.3,165.6L276.7,163.3L276.2,161.0L275.6,158.7L275.1,156.5L274.6,154.3L274.1,152.1L273.6,149.9L273.1,147.8L272.7,145.7L272.2,143.6L271.8,141.5L271.4,139.5L271.0,137.5L270.6,135.5L270.3,133.6L269.9,131.7L269.6,129.8L269.3,128.0L269.0,126.2L268.7,124.4L268.4,122.7L268.1,121.0L267.9,119.3L267.7,117.7L267.5,116.1L267.3,114.6L267.1,113.1L267.0,111.6L266.8,110.1L266.7,108.8L266.6,107.4L266.5,106.1L266.4,104.8L266.4,103.6L266.3,102.4L266.3,101.2L266.3,100.1L266.3,99.0L266.3,98.0L266.4,97.0L266.4,96.1L266.5,95.2L266.6,94.3L266.7,93.5L266.8,92.7L267.0,92.0L267.1,91.3L267.3,90.7L267.5,90.1L267.7,89.6L267.9,89.1L268.1,88.6L268.4,88.2L268.7,87.9L269.0,87.6L269.3,87.3L269.6,87.1L269.9,86.9M321.0,301.0L321.5,298.5L322.0,295.9L322.5,293.3L322.9,290.7L323.4,288.1L323.9,285.5L324.4,282.9L324.9,280.2L325.3,277.6L325.8,274.9L326.3,272.2L326.8,269.5L327.2,266.8L327.7,264.1L328.2,261.3L328.7,258.6L329.1,255.9L329.6,253.1L330.0,250.4L330.5,247.6L331.0,244.9L331.4,242.1L331.9,239.4L332.3,236.6L332.7,233.9L333.2,231.1L333.6,228.4L334.0,225.6L334.5,222.9L334.9,220.1L335.3,217.4L335.7,214.7L336.1,211.9L336.5,209.2L336.9,206.5L337.3,203.8L337.7,201.1L338.1,198.5L338.5,195.8L338.9,193.2L339.2,190.5L339.6,187.9L339.9,185.3L340.3,182.7L340.6,180.1L341.0,177.6L341.3,175.1L341.6,172.5L342.0,170.0L342.3,167.6L342.6,165.1L342.9,162.7L343.2,160.3L343.5,157.9L343.8,155.5L344.0,153.2L344.3,150.9L344.6,148.6L344.8,146.4L345.1,144.1L345.3,142.0L345.5,139.8L345.8,137.6L346.0,135.5L346.2,133.5L346.4,131.4L346.6,129.4L346.8,127.4L346.9,125.5L347.1,123.6L347.3,121.7L347.4,119.9L347.6,118.1L347.7,116.3L347.8,114.6L348.0,112.9L348.1,111.2L348.2,109.6L348.3,108.1L348.4,106.5L348.4,105.0L348.5,103.6L348.6,102.2L348.6,100.8L348.7,99.5L348.7,98.2L348.7,96.9L348.8,95.7L348.8,94.6L348.8,93.5L348.8,92.4L348.8,91.4L348.7,90.4L348.7,89.4L348.7,88.6L348.6,87.7L348.6,86.9L348.5,86.2L348.4,85.5L348.4,84.8L348.3,84.2L348.2,83.6L348.1,83.1L348.0,82.6L347.8,82.2L347.7,81.8L347.6,81.5L347.4,81.2L347.3,81.0L347.1,80.8L346.9,80.7L346.8,80.6M321.0,301.0L322.8,299.0L324.6,297.0L326.4,295.0L328.2,293.0L330.0,290.9L331.8,288.9L333.5,286.8L335.3,284.7L337.1,282.6L338.9,280.5L340.6,278.3L342.4,276.2L344.1,274.0L345.9,271.9L347.6,269.7L349.3,267.5L351.1,265.3L352.8,263.1L354.5,260.9L356.2,258.7L357.9,256.4L359.5,254.2L361.2,252.0L362.8,249.7L364.5,247.5L366.1,245.2L367.7,243.0L369.3,240.7L370.9,238.5L372.4,236.2L374.0,234.0L375.5,231.7L377.0,229.5L378.5,227.2L380.0,225.0L381.5,222.8L382.9,220.5L384.3,218.3L385.7,216.1L387.1,213.9L388.5,211.7L389.8,209.5L391.1,207.3L392.4,205.1L393.7,202.9L395.0,200.8L396.2,198.6L397.4,196.5L398.6,194.4L399.8,192.3L400.9,190.2L402.0,188.1L403.1,186.0L404.2,184.0L405.2,181.9L406.3,179.9L407.3,177.9L408.2,175.9L409.2,174.0L410.1,172.1L411.0,170.1L411.8,168.2L412.6,166.4L413.4,164.5L414.2,162.7L415.0,160.9L415.7,159.1L416.4,157.3L417.0,155.6L417.6,153.9L418.2,152.2L418.8,150.5L419.4,148.9L419.9,147.3L420.3,145.7L420.8,144.2L421.2,142.6L421.6,141.1L422.0,139.7L422.3,138.2L422.6,136.8L422.8,135.5L423.1,134.1L423.3,132.8L423.5,131.6L423.6,130.3L423.7,129.1L423.8,127.9L423.8,126.8L423.8,125.7L423.8,124.6L423.8,123.6L423.7,122.6L423.6,121.6L423.5,120.7L423.3,119.8L423.1,118.9L422.8,118.1L422.6,117.3L422.3,116.5L422.0,115.8L421.6,115.1L421.2,114.5L420.8,113.9L420.3,113.3L419.9,112.8L419.4,112.3L418.8,111.9M321.0,301.0L323.6,300.1L326.2,299.2L328.9,298.3L331.5,297.4L334.1,296.4L336.7,295.4L339.3,294.4L341.9,293.4L344.5,292.4L347.1,291.3L349.7,290.3L352.3,289.2L354.8,288.1L357.4,287.0L359.9,285.8L362.4,284.7L365.0,283.6L367.5,282.4L369.9,281.2L372.4,280.0L374.9,278.8L377.3,277.6L379.7,276.4L382.2,275.1L384.5,273.9L386.9,272.6L389.3,271.3L391.6,270.1L393.9,268.8L396.2,267.5L398.4,266.1L400.7,264.8L402.9,263.5L405.1,262.2L407.2,260.8L409.4,259.5L411.5,258.1L413.6,256.8L415.6,255.4L417.6,254.0L419.6,252.6L421.6,251.3L423.5,249.9L425.4,248.5L427.3,247.1L429.2,245.7L431.0,244.3L432.7,242.9L434.5,241.5L436.2,240.1L437.8,238.7L439.5,237.3L441.1,235.9L442.6,234.5L444.2,233.1L445.6,231.7L447.1,230.3L448.5,228.9L449.9,227.5L451.2,226.1L452.5,224.8L453.8,223.4L455.0,222.0L456.1,220.6L457.3,219.3L458.4,217.9L459.4,216.6L460.4,215.2L461.4,213.9L462.3,212.5L463.2,211.2L464.0,209.9L464.8,208.6L465.5,207.3L466.2,206.0L466.9,204.7L467.5,203.5L468.1,202.2L468.6,201.0L469.1,199.7L469.5,198.5L469.9,197.3L470.2,196.1L470.5,194.9L470.8,193.8L471.0,192.6L471.1,191.5L471.3,190.3L471.3,189.2L471.4,188.1L471.3,187.0L471.3,186.0L471.1,184.9L471.0,183.9L470.8,182.9L470.5,181.9L470.2,180.9L469.9,179.9M321.0,301.0L323.7,301.5L326.5,301.9L329.2,302.3L332.0,302.6L334.7,303.0L337.5,303.3L340.2,303.7L342.9,304.0L345.6,304.2L348.4,304.5L351.1,304.7L353.8,305.0L356.4,305.2L359.1,305.3L361.8,305.5L364.4,305.6L367.1,305.8L369.7,305.9L372.3,305.9L374.9,306.0L377.5,306.0L380.0,306.0L382.6,306.0L385.1,306.0L387.6,306.0L390.1,305.9L392.5,305.8L395.0,305.7L397.4,305.6L399.8,305.4L402.2,305.3L404.5,305.1L406.8,304.9L409.1,304.6L411.4,304.4L413.6,304.1L415.8,303.8L418.0,303.5L420.2,303.2L422.3,302.8L424.4,302.5L426.4,302.1L428.5,301.7L430.5,301.2L432.4,300.8L434.3,300.3L436.2,299.8L438.1,299.3L439.9,298.8L441.7,298.3L443.5,297.7L445.2,297.1L446.8,296.5L448.5,295.9L450.1,295.3L451.6,294.7L453.1,294.0L454.6,293.3L456.1,292.6L457.5,291.9L458.8,291.2L460.1,290.4L461.4,289.7L462.6,288.9L463.8,288.1L464.9,287.3L466.0,286.5L467.1,285.6L468.1,284.8L469.1,283.9L470.0,283.0L470.9,282.1L471.7,281.2L472.5,280.3L473.2,279.4L473.9,278.4L474.5,277.5L475.1,276.5L475.7,275.5L476.2,274.5L476.6,273.5L477.0,272.5L477.4,271.5L477.7,270.5L478.0,269.4M321.0,301.0L323.1,302.7L325.3,304.3L327.4,305.9L329.5,307.5L331.7,309.0L333.8,310.6L335.9,312.1L338.1,313.6L340.2,315.1L342.3,316.5L344.4,317.9L346.5,319.3L348.6,320.7L350.7,322.1L352.7,323.4L354.8,324.7L356.8,326.0L358.9,327.2L360.9,328.4L362.9,329.6L364.9,330.8L366.9,331.9L368.9,333.0L370.9,334.1L372.8,335.2L374.7,336.2L376.6,337.2L378.5,338.1L380.4,339.1L382.3,340.0L384.1,340.8L386.0,341.7L387.8,342.5L389.5,343.3L391.3,344.0L393.0,344.7L394.8,345.4L396.5,346.0L398.1,346.7L399.8,347.2L401.4,347.8L403.0,348.3L404.6,348.8L406.1,349.2L407.7,349.6L409.2,350.0L410.6,350.4L412.1,350.7L413.5,351.0L414.9,351.2L416.3,351.4L417.6,351.6L418.9,351.7L420.2,351.8L421.4,351.9L422.6,351.9L423.8,351.9L424.9,351.9L426.1,351.8L427.1,351.7L428.2,351.6L429.2,351.4L430.2,351.2L431.2,351.0L432.1,350.7L433.0,350.4L433.8,350.1L434.6,349.7L435.4,349.3L436.2,348.8L436.9,348.4L437.6,347.9L438.2,347.3L438.8,346.7M321.0,301.0L322.0,303.4L322.9,305.8L323.9,308.2L324.8,310.5L325.8,312.8L326.7,315.1L327.7,317.4L328.6,319.7L329.6,321.9L330.5,324.1L331.4,326.3L332.4,328.4L333.3,330.5L334.2,332.6L335.2,334.7L336.1,336.7L337.0,338.7L337.9,340.7L338.8,342.7L339.7,344.6L340.6,346.5L341.5,348.3L342.4,350.1L343.3,351.9L344.1,353.6L345.0,355.4L345.8,357.0L346.7,358.7L347.5,360.3L348.4,361.8L349.2,363.4L350.0,364.9L350.8,366.3L351.6,367.7L352.4,369.1L353.2,370.4L353.9,371.7L354.7,373.0L355.4,374.2L356.2,375.4L356.9,376.5L357.6,377.6L358.3,378.6L359.0,379.6L359.7,380.6L360.4,381.5L361.0,382.4L361.7,383.2L362.3,384.0L362.9,384.7L363.5,385.4L364.1,386.0L364.7,386.7L365.3,387.2L365.8,387.7L366.4,388.2L366.9,388.6L367.4,389.0L367.9,389.3L368.4,389.6L368.9,389.9L369.3,390.0L369.8,390.2L370.2,390.3L370.6,390.4L371.0,390.4L371.4,390.3L371.7,390.2M321.0,301.0L320.5,303.5L320.0,306.0L319.5,308.5L319.1,311.0L318.6,313.4L318.1,315.8L317.6,318.2L317.1,320.6L316.7,322.9L316.2,325.3L315.7,327.5L315.2,329.8L314.8,332.0L314.3,334.2L313.8,336.4L313.3,338.6L312.9,340.7L312.4,342.8L312.0,344.8L311.5,346.9L311.0,348.8L310.6,350.8L310.1,352.7L309.7,354.6L309.3,356.5L308.8,358.3L308.4,360.1L308.0,361.8L307.5,363.5L307.1,365.2L306.7,366.8L306.3,368.4L305.9,369.9L305.5,371.4L305.1,372.9L304.7,374.3L304.3,375.7L303.9,377.1L303.5,378.4L303.1,379.6L302.8,380.8L302.4,382.0L302.1,383.1L301.7,384.2L301.4,385.3L301.0,386.3L300.7,387.2L300.4,388.1L300.0,389.0L299.7,389.8L299.4,390.6L299.1,391.3L298.8,392.0L298.5,392.6L298.2,393.2L298.0,393.7L297.7,394.2L297.4,394.6L297.2,395.0L296.9,395.4L296.7,395.7L296.5,395.9L296.2,396.1L296.0,396.3L295.8,396.4L295.6,396.4L295.4,396.4" fill="none" stroke="#8a8a8a" stroke-width="0.8" stroke-opacity="0.6"/>
  <path d="M209.9,123.2L216.0,118.5L223.6,112.9L230.0,108.0L236.2,103.7L240.0,101.5M223.1,115.8L224.2,118.0L221.3,120.9L217.9,125.5L216.2,128.9L215.6,133.5L217.9,134.7L223.6,135.8L229.4,138.7L235.1,138.1L242.9,137.5L246.4,142.1L247.5,155.9L249.8,165.0L252.1,176.5L254.4,188.0L256.7,194.9L260.1,201.7L264.7,208.6L269.3,213.2L273.9,216.7L280.8,213.2L276.2,210.9L272.8,206.3L271.6,197.2L270.5,188.0L272.8,181.1L275.0,176.5L273.9,171.9L277.3,167.3L281.9,162.8L278.5,158.2L284.2,157.0L291.1,151.3L295.7,144.4L297.5,138.0L300.0,133.0L307.5,129.2L317.5,126.8L322.5,120.5L323.8,113.0L327.5,108.0L333.8,103.0L335.0,100.5L327.5,96.8L315.0,95.5L305.0,94.2L297.5,95.5L290.0,91.8L280.0,91.2L268.0,93.0L258.5,102.8L252.3,104.9L245.4,108.3L240.0,111.0M234.5,119.2L238.5,117.5L242.0,115.8L246.5,111.8L252.3,108.3L258.0,107.5L265.0,104.0L278.5,99.6L288.5,95.9L293.5,95.9L297.5,95.5M380.0,90.5L385.0,94.2L395.0,100.5L407.5,108.0L420.0,118.0L430.0,126.8L440.0,135.5L442.3,143.8L444.4,150.0L447.5,160.4L446.5,164.6L442.3,167.7L441.2,175.0L440.2,183.3L438.3,190.0L437.5,200.0L435.8,205.8L434.2,210.0L436.7,215.0L441.7,221.7L445.8,225.8L452.5,229.2L457.5,227.5L460.0,228.3L463.3,230.0L466.7,224.2L470.0,225.8L472.5,230.8L475.8,223.3L477.5,217.5L478.5,212.0M453.8,160.4L458.0,162.5L462.0,166.0M470.0,193.3L471.7,200.0M472.5,210.0L470.8,216.7M473.3,243.3L475.8,247.5L477.5,250.0L475.8,255.0L473.3,256.7L466.7,258.3L465.0,253.3L467.5,246.7L471.7,245.0L473.3,243.3M298.5,231.5L299.8,232.8L301.0,249.0L306.0,262.8L313.5,267.8L323.5,270.2L331.0,265.2L336.0,262.8L346.0,257.8L356.0,259.0L363.5,265.2L371.0,274.0L376.0,281.5L381.0,294.0L386.0,296.5L381.0,306.5L373.5,314.0L373.5,326.5L368.5,334.0L363.5,341.5L351.0,346.5L341.0,351.5L326.0,355.2L313.5,352.8L308.5,349.0L301.0,344.0L296.0,339.0L298.5,332.8L306.0,329.0L302.2,322.8L294.8,316.5L286.0,309.0L278.5,299.0L276.0,289.0L278.5,281.5L278.5,276.5L284.8,274.0L291.0,269.0L294.8,262.8L289.8,257.8L291.0,252.8L293.5,244.0L294.8,236.5L298.5,231.5M241.9,368.1L246.2,370.0L248.8,369.4L252.5,371.2L256.2,371.9L261.2,372.5L267.5,371.9L271.2,375.6L267.5,376.2L261.2,375.0L256.2,373.8L251.2,373.1L247.5,373.1L249.4,376.2L246.2,371.9L241.9,368.1M285.0,395.5L290.0,394.4L299.4,392.5L308.8,393.4L318.1,393.4L325.6,395.3L335.0,394.4L346.2,392.5L357.5,389.7L365.0,387.8L372.5,386.0L378.1,384.0L384.3,382.3L392.0,380.0M304.0,388.8L307.0,387.8L310.6,388.6L308.0,389.9L304.5,389.7L304.0,388.8" fill="none" stroke="#000" stroke-width="0.8" stroke-opacity="0.72" stroke-linejoin="round"/>
  </g>

  <circle cx="321" cy="238.5" r="160" fill="none" stroke="#8c8c8c" stroke-width="1.3"/>
</svg>

<svg width="640" height="480" viewBox="0 0 640 480">
  <defs>
    <linearGradient id="cmap" x1="331" y1="0" x2="530" y2="0" gradientUnits="userSpaceOnUse">
      <stop offset="0.0000" stop-color="#3a0a5c"/>
      <stop offset="0.0550" stop-color="#4818a8"/>
      <stop offset="0.0875" stop-color="#3a30d8"/>
      <stop offset="0.1250" stop-color="#2060f0"/>
      <stop offset="0.1750" stop-color="#2090f0"/>
      <stop offset="0.2500" stop-color="#30a8f8"/>
      <stop offset="0.3250" stop-color="#40c8ff"/>
      <stop offset="0.3750" stop-color="#40e8ff"/>
      <stop offset="0.4375" stop-color="#40f0a0"/>
      <stop offset="0.4625" stop-color="#40f040"/>
      <stop offset="0.5000" stop-color="#60f040"/>
      <stop offset="0.5500" stop-color="#c0f040"/>
      <stop offset="0.6000" stop-color="#f8f840"/>
      <stop offset="0.6250" stop-color="#ffe040"/>
      <stop offset="0.6750" stop-color="#ffb040"/>
      <stop offset="0.7125" stop-color="#ff8040"/>
      <stop offset="0.7500" stop-color="#ff5040"/>
      <stop offset="0.8000" stop-color="#ff3040"/>
      <stop offset="0.8625" stop-color="#ff1020"/>
      <stop offset="0.9000" stop-color="#d01820"/>
      <stop offset="0.9500" stop-color="#802020"/>
      <stop offset="1.0000" stop-color="#402828"/>
    </linearGradient>
  </defs>
  <path d="M331.3,423.8 L322.5,432.6 L331.3,441.2 Z" fill="#401048" stroke="#000" stroke-width="1.5" stroke-linejoin="miter"/>
  <path d="M530.3,423.8 L539.5,432.6 L530.3,441.2 Z" fill="#402828" stroke="#000" stroke-width="1.5" stroke-linejoin="miter"/>
  <rect x="331" y="423.8" width="199.3" height="17.4" fill="url(#cmap)" stroke="#000" stroke-width="1.6"/>
  <g stroke="#777" stroke-width="1.2">
    <line x1="331.3" y1="442" x2="331.3" y2="446.6"/>
    <line x1="356.2" y1="442" x2="356.2" y2="443.8"/>
    <line x1="381.1" y1="442" x2="381.1" y2="446.6"/>
    <line x1="406" y1="442" x2="406" y2="443.8"/>
    <line x1="430.9" y1="442" x2="430.9" y2="446.6"/>
    <line x1="455.8" y1="442" x2="455.8" y2="443.8"/>
    <line x1="480.7" y1="442" x2="480.7" y2="446.6"/>
    <line x1="505.6" y1="442" x2="505.6" y2="443.8"/>
    <line x1="530.3" y1="442" x2="530.3" y2="446.6"/>
  </g>
  <g font-family="Liberation Sans" font-weight="bold" font-size="13" text-anchor="middle">
    <text x="331.3" y="463">0</text>
    <text x="381.1" y="463">1</text>
    <text x="430.9" y="463">2</text>
    <text x="480.7" y="463">3</text>
    <text x="530.3" y="463">4</text>
  </g>
</svg>

<svg width="640" height="480" viewBox="0 0 640 480">
  <path d="M560,400.2 C563,399 565,398 568,397.6 L578,396.2 C583,397 588,401 593,402.2 C598,403 603,402.5 612,399.6 C616,398.5 620,397.2 623.5,396.2" fill="none" stroke="#2232d8" stroke-width="2.2" stroke-linecap="round"/>
  <path d="M567.8,400.8 L569.3,384 L571.2,375.5 L572.9,386 L574,389.2 L575.3,386 L576.3,375.5 L577.6,385.5 L578.1,400.8 Z" fill="#6e6e6e"/>
  <text x="579" y="395" font-family="Liberation Sans" font-weight="bold" font-style="italic" font-size="24" letter-spacing="1" fill="#000">RIU</text>
  <g fill="none" stroke="#000" stroke-width="3.1" stroke-linejoin="miter">
    <polygon points="568.86,440.41 609.03,440.41 617.40,431.55 577.27,431.55"/>
    <polygon points="604.33,418.16 581.97,441.29 581.97,453.84 604.33,430.71"/>
  </g>
  <text x="595.5" y="461.3" font-family="Liberation Sans" font-weight="bold" font-size="13.5" fill="#000">DLR</text>
</svg>
</body></html>
